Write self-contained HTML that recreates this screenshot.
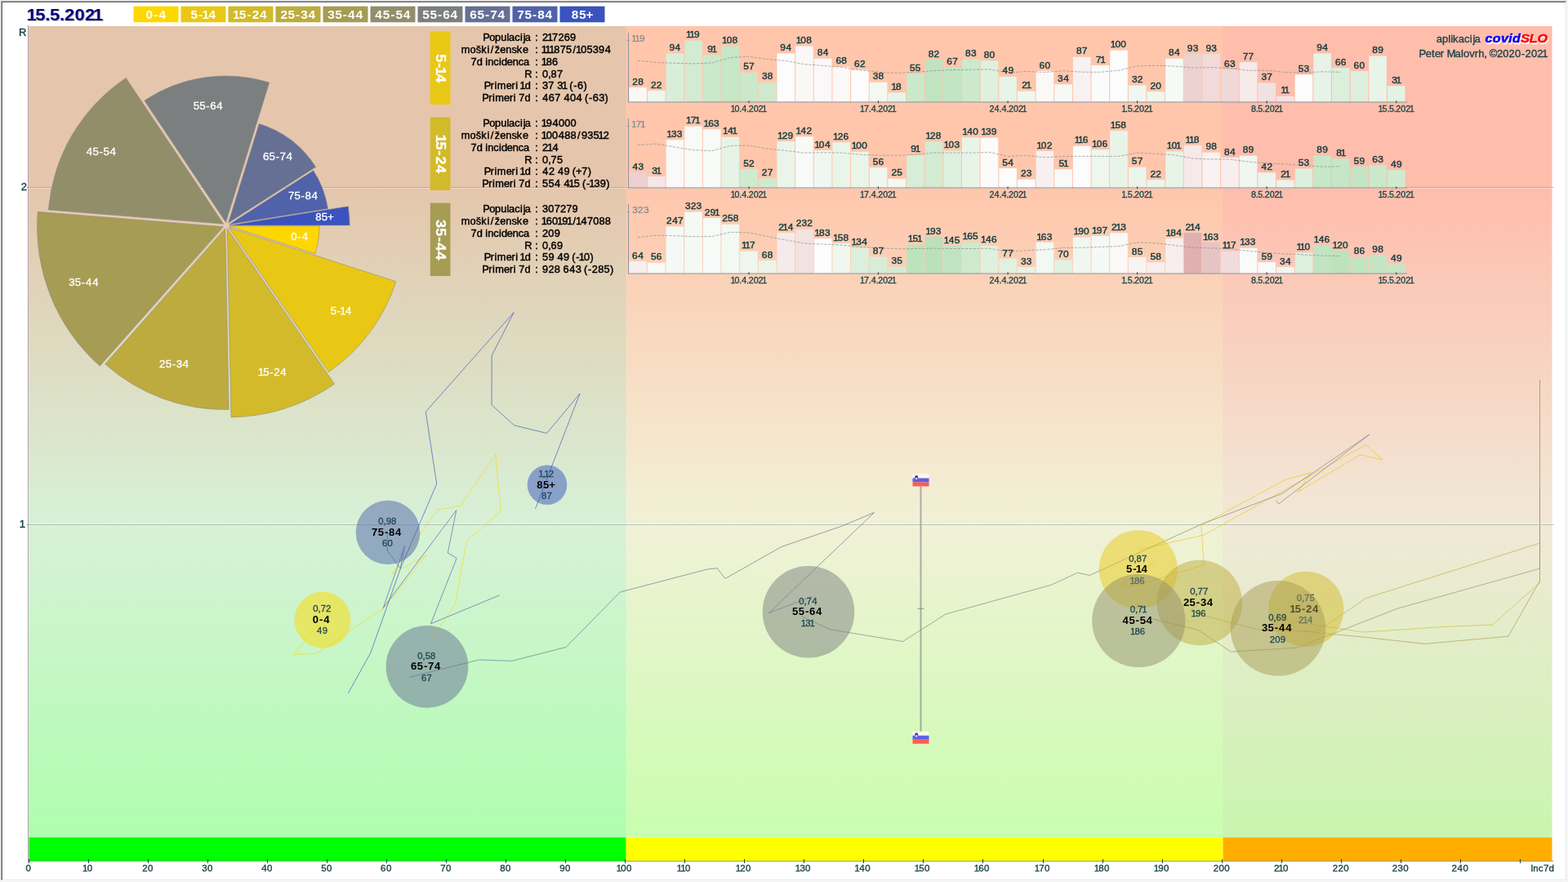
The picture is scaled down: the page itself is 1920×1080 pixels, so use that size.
<!DOCTYPE html>
<html lang="sl"><head><meta charset="utf-8"><title>covidSLO 15.5.2021</title>
<style>
html,body{margin:0;padding:0;width:1920px;height:1080px;overflow:hidden;background:#fff}
#frame{position:absolute;left:0;top:0;width:1920px;height:1080px;box-sizing:border-box;border:1px solid #f0f0f0}
#frame i{position:absolute;display:block}
svg{position:absolute;left:0;top:0;font-family:'Liberation Sans', sans-serif}
svg text{white-space:pre;font-kerning:none;font-variant-ligatures:none}
</style></head><body>
<div id="frame">
<i style="left:0;top:0;width:1917px;height:1px;background:#a0a0a0"></i>
<i style="left:0;top:0;width:1px;height:1077px;background:#a0a0a0"></i>
<i style="left:1px;top:1px;width:1915px;height:1px;background:#696969"></i>
<i style="left:1px;top:1px;width:1px;height:1075px;background:#696969"></i>
<i style="left:1px;top:1076px;width:1916px;height:1px;background:#e3e3e3"></i>
<i style="left:1916px;top:1px;width:1px;height:1076px;background:#e3e3e3"></i>
</div>
<svg width="1920" height="1080" viewBox="0 0 1920 1080">
<defs>
<linearGradient id="bg" gradientUnits="userSpaceOnUse" x1="0" y1="229" x2="0" y2="1055">
<stop offset="0" stop-color="#ffc0c0"/><stop offset="0.5" stop-color="#f0f0f0"/><stop offset="1" stop-color="#c0ffc0"/>
</linearGradient>
<clipPath id="plot"><rect x="35" y="32" width="1865.5" height="1022"/></clipPath>
</defs>
<g id="background">
<rect x="35" y="32" width="1865.5" height="993.5" fill="url(#bg)"/>
<rect x="36" y="32" width="730.6" height="993.5" fill="#00ff00" fill-opacity="0.1"/>
<rect x="766.6" y="32" width="730.9" height="993.5" fill="#ffff00" fill-opacity="0.1"/>
<rect x="1497.5" y="32" width="403" height="993.5" fill="#ffa500" fill-opacity="0.1"/>
<rect x="35.5" y="1025.4" width="731.1" height="28.6" fill="#00ff00"/>
<rect x="766.6" y="1025.4" width="730.9" height="28.6" fill="#ffff00"/>
<rect x="1497.5" y="1025.4" width="403" height="28.6" fill="#ffae00"/>
</g>
<g id="rlines">
<line x1="35" y1="230.5" x2="1900.5" y2="230.5" stroke="#ffffff" stroke-opacity="0.35" stroke-width="1"/>
<line x1="35" y1="641.5" x2="1900.5" y2="641.5" stroke="#ffffff" stroke-opacity="0.35" stroke-width="1"/>
<line x1="33" y1="229.5" x2="1902" y2="229.5" stroke="#87958f" stroke-width="1" stroke-dasharray="1 1"/>
<line x1="33" y1="642.5" x2="1902" y2="642.5" stroke="#87958f" stroke-width="1" stroke-dasharray="1 1"/>
</g>
<g id="axes">
<line x1="34.5" y1="31" x2="34.5" y2="1054.5" stroke="#a2a2a2" stroke-width="1"/>
<line x1="34" y1="1054.5" x2="1902" y2="1054.5" stroke="#9a9aa6" stroke-width="1"/>
<line x1="35.5" y1="1052" x2="35.5" y2="1057" stroke="#1c4346" stroke-width="1"/>
<text transform="translate(31.3,1066.9) scale(1.06,1)" font-size="10.86" fill="#1c4346" stroke="#1c4346" stroke-width="0.35" dx="0.15">0</text>
<line x1="108.5" y1="1052" x2="108.5" y2="1057" stroke="#1c4346" stroke-width="1"/>
<text transform="translate(102.1,1066.9) scale(1.06,1)" font-size="10.86" fill="#1c4346" stroke="#1c4346" stroke-width="0.35" dx="-1.1 -0.65">10</text>
<line x1="181.5" y1="1052" x2="181.5" y2="1057" stroke="#1c4346" stroke-width="1"/>
<text transform="translate(174.0,1066.9) scale(1.06,1)" font-size="10.86" fill="#1c4346" stroke="#1c4346" stroke-width="0.35" dx="0.16 0.31">20</text>
<line x1="254.5" y1="1052" x2="254.5" y2="1057" stroke="#1c4346" stroke-width="1"/>
<text transform="translate(247.0,1066.9) scale(1.06,1)" font-size="10.86" fill="#1c4346" stroke="#1c4346" stroke-width="0.35" dx="0.18 0.28">30</text>
<line x1="327.5" y1="1052" x2="327.5" y2="1057" stroke="#1c4346" stroke-width="1"/>
<text transform="translate(319.7,1066.9) scale(1.06,1)" font-size="10.86" fill="#1c4346" stroke="#1c4346" stroke-width="0.35" dx="0.42 0.49">40</text>
<line x1="400.5" y1="1052" x2="400.5" y2="1057" stroke="#1c4346" stroke-width="1"/>
<text transform="translate(393.0,1066.9) scale(1.06,1)" font-size="10.86" fill="#1c4346" stroke="#1c4346" stroke-width="0.35" dx="0.16 0.3">50</text>
<line x1="473.5" y1="1052" x2="473.5" y2="1057" stroke="#1c4346" stroke-width="1"/>
<text transform="translate(466.0,1066.9) scale(1.06,1)" font-size="10.86" fill="#1c4346" stroke="#1c4346" stroke-width="0.35" dx="0.12 0.34">60</text>
<line x1="546.5" y1="1052" x2="546.5" y2="1057" stroke="#1c4346" stroke-width="1"/>
<text transform="translate(539.0,1066.9) scale(1.06,1)" font-size="10.86" fill="#1c4346" stroke="#1c4346" stroke-width="0.35" dx="0.15 0.31">70</text>
<line x1="619.5" y1="1052" x2="619.5" y2="1057" stroke="#1c4346" stroke-width="1"/>
<text transform="translate(612.0,1066.9) scale(1.06,1)" font-size="10.86" fill="#1c4346" stroke="#1c4346" stroke-width="0.35" dx="0.16 0.31">80</text>
<line x1="692.5" y1="1052" x2="692.5" y2="1057" stroke="#1c4346" stroke-width="1"/>
<text transform="translate(685.0,1066.9) scale(1.06,1)" font-size="10.86" fill="#1c4346" stroke="#1c4346" stroke-width="0.35" dx="0.16 0.3">90</text>
<line x1="765.5" y1="1052" x2="765.5" y2="1057" stroke="#1c4346" stroke-width="1"/>
<text transform="translate(755.8,1066.9) scale(1.06,1)" font-size="10.86" fill="#1c4346" stroke="#1c4346" stroke-width="0.35" dx="-1.1 -0.65 0.31">100</text>
<line x1="838.5" y1="1052" x2="838.5" y2="1057" stroke="#1c4346" stroke-width="1"/>
<text transform="translate(830.0,1066.9) scale(1.06,1)" font-size="10.86" fill="#1c4346" stroke="#1c4346" stroke-width="0.35" dx="-1.1 -1.9 -0.65">110</text>
<line x1="911.5" y1="1052" x2="911.5" y2="1057" stroke="#1c4346" stroke-width="1"/>
<text transform="translate(901.8,1066.9) scale(1.06,1)" font-size="10.86" fill="#1c4346" stroke="#1c4346" stroke-width="0.35" dx="-1.1 -0.64 0.31">120</text>
<line x1="984.5" y1="1052" x2="984.5" y2="1057" stroke="#1c4346" stroke-width="1"/>
<text transform="translate(974.8,1066.9) scale(1.06,1)" font-size="10.86" fill="#1c4346" stroke="#1c4346" stroke-width="0.35" dx="-1.1 -0.62 0.28">130</text>
<line x1="1057.5" y1="1052" x2="1057.5" y2="1057" stroke="#1c4346" stroke-width="1"/>
<text transform="translate(1047.5,1066.9) scale(1.06,1)" font-size="10.86" fill="#1c4346" stroke="#1c4346" stroke-width="0.35" dx="-1.1 -0.38 0.49">140</text>
<line x1="1130.5" y1="1052" x2="1130.5" y2="1057" stroke="#1c4346" stroke-width="1"/>
<text transform="translate(1120.8,1066.9) scale(1.06,1)" font-size="10.86" fill="#1c4346" stroke="#1c4346" stroke-width="0.35" dx="-1.1 -0.64 0.3">150</text>
<line x1="1203.5" y1="1052" x2="1203.5" y2="1057" stroke="#1c4346" stroke-width="1"/>
<text transform="translate(1193.8,1066.9) scale(1.06,1)" font-size="10.86" fill="#1c4346" stroke="#1c4346" stroke-width="0.35" dx="-1.1 -0.68 0.34">160</text>
<line x1="1277.5" y1="1052" x2="1277.5" y2="1057" stroke="#1c4346" stroke-width="1"/>
<text transform="translate(1267.8,1066.9) scale(1.06,1)" font-size="10.86" fill="#1c4346" stroke="#1c4346" stroke-width="0.35" dx="-1.1 -0.65 0.31">170</text>
<line x1="1350.5" y1="1052" x2="1350.5" y2="1057" stroke="#1c4346" stroke-width="1"/>
<text transform="translate(1340.8,1066.9) scale(1.06,1)" font-size="10.86" fill="#1c4346" stroke="#1c4346" stroke-width="0.35" dx="-1.1 -0.64 0.31">180</text>
<line x1="1423.5" y1="1052" x2="1423.5" y2="1057" stroke="#1c4346" stroke-width="1"/>
<text transform="translate(1413.8,1066.9) scale(1.06,1)" font-size="10.86" fill="#1c4346" stroke="#1c4346" stroke-width="0.35" dx="-1.1 -0.64 0.3">190</text>
<line x1="1496.5" y1="1052" x2="1496.5" y2="1057" stroke="#1c4346" stroke-width="1"/>
<text transform="translate(1485.6,1066.9) scale(1.06,1)" font-size="10.86" fill="#1c4346" stroke="#1c4346" stroke-width="0.35" dx="0.16 0.31 0.31">200</text>
<line x1="1569.5" y1="1052" x2="1569.5" y2="1057" stroke="#1c4346" stroke-width="1"/>
<text transform="translate(1559.8,1066.9) scale(1.06,1)" font-size="10.86" fill="#1c4346" stroke="#1c4346" stroke-width="0.35" dx="0.16 -0.95 -0.65">210</text>
<line x1="1642.5" y1="1052" x2="1642.5" y2="1057" stroke="#1c4346" stroke-width="1"/>
<text transform="translate(1631.6,1066.9) scale(1.06,1)" font-size="10.86" fill="#1c4346" stroke="#1c4346" stroke-width="0.35" dx="0.16 0.31 0.31">220</text>
<line x1="1715.5" y1="1052" x2="1715.5" y2="1057" stroke="#1c4346" stroke-width="1"/>
<text transform="translate(1704.6,1066.9) scale(1.06,1)" font-size="10.86" fill="#1c4346" stroke="#1c4346" stroke-width="0.35" dx="0.16 0.34 0.28">230</text>
<line x1="1788.5" y1="1052" x2="1788.5" y2="1057" stroke="#1c4346" stroke-width="1"/>
<text transform="translate(1777.4,1066.9) scale(1.06,1)" font-size="10.86" fill="#1c4346" stroke="#1c4346" stroke-width="0.35" dx="0.16 0.57 0.49">240</text>
<line x1="1861.5" y1="1052" x2="1861.5" y2="1057" stroke="#1c4346" stroke-width="1"/>
<text transform="translate(1874.3,1066.9) scale(1.06,1)" font-size="10.86" fill="#1c4346" stroke="#1c4346" stroke-width="0.35" dx="-0.05 -0.08 0.04 0.34 0.23">Inc7d</text>
<text transform="translate(24.3,44.0) scale(1.06,1)" font-size="12.29" fill="#1c4346" stroke="#1c4346" stroke-width="0.4" dx="-1.17">R</text>
<text transform="translate(25.6,233.0) scale(1.06,1)" font-size="12.29" fill="#1c4346" stroke="#1c4346" stroke-width="0.4" dx="0.07">2</text>
<text transform="translate(25.2,645.8) scale(1.06,1)" font-size="12.29" fill="#1c4346" stroke="#1c4346" stroke-width="0.4" dx="-1.32">1</text>
</g>
<g id="header">
<text transform="translate(36.0,26.0) scale(1.06,1)" font-size="20.86" fill="#b4b4b4" font-weight="bold" dx="-2.31 -1.5 -0.26 -0.36 -0.26 -0.28 0.18 0.27 -2.26">15.5.2021</text>
<text transform="translate(35.0,25.0) scale(1.06,1)" font-size="20.86" fill="#000080" font-weight="bold" dx="-2.31 -1.5 -0.26 -0.36 -0.26 -0.28 0.18 0.27 -2.26">15.5.2021</text>
<rect x="163.5" y="7.7" width="55" height="19.6" fill="#ffd700"/>
<text transform="translate(178.3,23) scale(1.06,1)" font-size="14.57" fill="#fff" font-weight="bold" dx="0.26 0.93 1.15">0-4</text>
<rect x="221.5" y="7.7" width="55" height="19.6" fill="#e9c815"/>
<text transform="translate(233.3,23) scale(1.06,1)" font-size="14.57" fill="#fff" font-weight="bold" dx="0.23 0.96 -0.83 -0.52">5-14</text>
<rect x="279.5" y="7.7" width="55" height="19.6" fill="#d3ba2a"/>
<text transform="translate(286.7,23) scale(1.06,1)" font-size="14.57" fill="#fff" font-weight="bold" dx="-1.5 -0.76 0.96 0.96 0.69">15-24</text>
<rect x="337.5" y="7.7" width="55" height="19.6" fill="#bdab3f"/>
<text transform="translate(343.1,23) scale(1.06,1)" font-size="14.57" fill="#fff" font-weight="bold" dx="0.29 0.45 0.96 1.02 0.64">25-34</text>
<rect x="395.5" y="7.7" width="55" height="19.6" fill="#a79c54"/>
<text transform="translate(400.8,23) scale(1.06,1)" font-size="14.57" fill="#fff" font-weight="bold" dx="0.35 0.39 0.96 1.15 1.1">35-44</text>
<rect x="453.5" y="7.7" width="55" height="19.6" fill="#928e6a"/>
<text transform="translate(458.8,23) scale(1.06,1)" font-size="14.57" fill="#fff" font-weight="bold" dx="0.48 0.85 0.96 0.9 0.75">45-54</text>
<rect x="511.5" y="7.7" width="55" height="19.6" fill="#7c7f7f"/>
<text transform="translate(517.1,23) scale(1.06,1)" font-size="14.57" fill="#fff" font-weight="bold" dx="0.23 0.5 0.96 0.91 0.74">55-64</text>
<rect x="569.5" y="7.7" width="55" height="19.6" fill="#667094"/>
<text transform="translate(575.1,23) scale(1.06,1)" font-size="14.57" fill="#fff" font-weight="bold" dx="0.25 0.49 0.96 0.93 0.72">65-74</text>
<rect x="627.5" y="7.7" width="55" height="19.6" fill="#5062a9"/>
<text transform="translate(633.1,23) scale(1.06,1)" font-size="14.57" fill="#fff" font-weight="bold" dx="0.26 0.47 0.96 0.91 0.74">75-84</text>
<rect x="685.5" y="7.7" width="55" height="19.6" fill="#3a53be"/>
<text transform="translate(699.6,23) scale(1.06,1)" font-size="14.57" fill="#fff" font-weight="bold" dx="0.25 0.49 0.01">85+</text>
<text transform="translate(1759.3,52) scale(1.06,1)" font-size="12.29" fill="#1c4346" stroke="#1c4346" stroke-width="0.35" dx="-0.41 -0.16 0.06 0.16 -0.16 0.22 0.06 0.22 0.7 -0.9">aplikacija</text>
<text transform="translate(1819.2,53.7) scale(1.06,1)" font-size="15.14" fill="#fff" font-weight="bold" stroke="#fff" stroke-width="0.5" dx="0.19 0.41 0.46 0.33 0.22" font-style="italic">covid</text>
<text transform="translate(1862.9,53.7) scale(1.06,1)" font-size="15.14" fill="#fff" font-weight="bold" stroke="#fff" stroke-width="0.5" dx="0.22 -0.13 -0.09" font-style="italic">SLO</text>
<text transform="translate(1818.2,52.2) scale(1.06,1)" font-size="15.14" fill="#0000ff" font-weight="bold" stroke="#0000ff" stroke-width="0.5" dx="0.19 0.41 0.46 0.33 0.22" font-style="italic">covid</text>
<text transform="translate(1861.9,52.2) scale(1.06,1)" font-size="15.14" fill="#ff0000" font-weight="bold" stroke="#ff0000" stroke-width="0.5" dx="0.22 -0.13 -0.09" font-style="italic">SLO</text>
<text transform="translate(1738.3,69.6) scale(1.06,1)" font-size="12.29" fill="#1c4346" stroke="#1c4346" stroke-width="0.35" dx="-0.73 -0.46 0.13 0.26 -0.38 0.34 -0.5 -0.86 0.23 -0.03 0.05 -0.1 0.22 -0.25 -0.19 -0.51 -0.44 0.09 0.11 0.09 0.51 0.5 0.09 0.11 -1.28">Peter Malovrh, ©2020-2021</text>
</g>
<g id="trails" clip-path="url(#plot)" fill="none" stroke-width="1" stroke-linecap="butt" stroke-opacity="0.66">
<g stroke="#ffd700"><line x1="529.4" y1="781.9" x2="557.5" y2="739.4"/><line x1="557.5" y1="739.4" x2="571.3" y2="662.5"/><line x1="571.3" y1="662.5" x2="613.3" y2="626.3"/><line x1="613.3" y1="626.3" x2="606.7" y2="556.3"/><line x1="606.7" y1="556.3" x2="564.2" y2="619.2"/><line x1="564.2" y1="619.2" x2="535.8" y2="624.2"/><line x1="535.8" y1="624.2" x2="479.6" y2="703.2"/><line x1="479.6" y1="703.2" x2="521.7" y2="680.2"/><line x1="521.7" y1="680.2" x2="469.4" y2="745.0"/><line x1="469.4" y1="745.0" x2="387.5" y2="800.3"/><line x1="387.5" y1="800.3" x2="360.0" y2="801.3"/><line x1="360.0" y1="801.3" x2="392.5" y2="761.3"/></g>
<g stroke="#e9c815"><line x1="1393.5" y1="673.2" x2="1474.2" y2="655.1"/><line x1="1474.2" y1="655.1" x2="1672.6" y2="544.5"/><line x1="1672.6" y1="544.5" x2="1692.8" y2="563.2"/><line x1="1692.8" y1="563.2" x2="1665.9" y2="556.7"/><line x1="1665.9" y1="556.7" x2="1588.5" y2="602.9"/><line x1="1588.5" y1="602.9" x2="1605.4" y2="578.8"/><line x1="1605.4" y1="578.8" x2="1575.1" y2="586.8"/><line x1="1575.1" y1="586.8" x2="1470.9" y2="643.0"/><line x1="1470.9" y1="643.0" x2="1474.2" y2="692.0"/><line x1="1474.2" y1="692.0" x2="1383.4" y2="719.1"/><line x1="1383.4" y1="719.1" x2="1373.3" y2="716.1"/><line x1="1373.3" y1="716.1" x2="1413.7" y2="688.5"/></g>
<g stroke="#d3ba2a"><line x1="1885.5" y1="682.2" x2="1885.5" y2="688.8"/><line x1="1885.5" y1="688.8" x2="1885.5" y2="597.5"/><line x1="1885.5" y1="597.5" x2="1885.5" y2="618.9"/><line x1="1885.5" y1="618.9" x2="1885.5" y2="609.2"/><line x1="1885.5" y1="609.2" x2="1885.5" y2="669.8"/><line x1="1885.5" y1="669.8" x2="1885.5" y2="681.8"/><line x1="1885.5" y1="681.8" x2="1885.5" y2="681.8"/><line x1="1885.5" y1="681.8" x2="1885.5" y2="713.6"/><line x1="1885.5" y1="713.6" x2="1827.6" y2="765.0"/><line x1="1827.6" y1="765.0" x2="1763.6" y2="767.8"/><line x1="1763.6" y1="767.8" x2="1669.4" y2="774.1"/><line x1="1669.4" y1="774.1" x2="1571.5" y2="758.9"/></g>
<g stroke="#bdab3f"><line x1="1885.5" y1="600" x2="1885.5" y2="665.0"/><line x1="1885.5" y1="665.0" x2="1672.5" y2="732.5"/><line x1="1672.5" y1="732.5" x2="1613.2" y2="773.0"/><line x1="1613.2" y1="773.0" x2="1546" y2="772"/><line x1="1546" y1="772" x2="1476.3" y2="754.4"/><line x1="1476.3" y1="754.4" x2="1457.5" y2="747.3"/><line x1="1457.5" y1="747.3" x2="1466.9" y2="740.6"/></g>
<g stroke="#a79c54"><line x1="1885.5" y1="612.0" x2="1885.5" y2="608.4"/><line x1="1885.5" y1="608.4" x2="1885.5" y2="465.2"/><line x1="1885.5" y1="465.2" x2="1885.5" y2="509.9"/><line x1="1885.5" y1="509.9" x2="1885.5" y2="567.5"/><line x1="1885.5" y1="567.5" x2="1885.5" y2="637.2"/><line x1="1885.5" y1="637.2" x2="1885.5" y2="652.0"/><line x1="1885.5" y1="652.0" x2="1885.5" y2="672.5"/><line x1="1885.5" y1="672.5" x2="1885.5" y2="711.2"/><line x1="1885.5" y1="711.2" x2="1846.8" y2="779.2"/><line x1="1846.8" y1="779.2" x2="1744.5" y2="788.4"/><line x1="1744.5" y1="788.4" x2="1670.8" y2="780.2"/><line x1="1670.8" y1="780.2" x2="1587.6" y2="772.3"/></g>
<g stroke="#928e6a"><line x1="1885.5" y1="600" x2="1885.5" y2="696.2"/><line x1="1885.5" y1="696.2" x2="1710.8" y2="745.3"/><line x1="1710.8" y1="745.3" x2="1588.0" y2="793.1"/><line x1="1588.0" y1="793.1" x2="1507.5" y2="798.1"/><line x1="1507.5" y1="798.1" x2="1466.9" y2="771.3"/><line x1="1466.9" y1="771.3" x2="1410.0" y2="757.5"/></g>
<g stroke="#7c7f7f"><line x1="1562.7" y1="612.7" x2="1565.6" y2="617.1"/><line x1="1565.6" y1="617.1" x2="1676.7" y2="532.2"/><line x1="1676.7" y1="532.2" x2="1570.0" y2="604.4"/><line x1="1570.0" y1="604.4" x2="1472.5" y2="641.3"/><line x1="1472.5" y1="641.3" x2="1334.3" y2="704.5"/><line x1="1334.3" y1="704.5" x2="1319.5" y2="701.3"/><line x1="1319.5" y1="701.3" x2="1287.0" y2="716.3"/><line x1="1287.0" y1="716.3" x2="1158.0" y2="752.0"/><line x1="1158.0" y1="752.0" x2="1105.5" y2="785.5"/><line x1="1105.5" y1="785.5" x2="1016.1" y2="770.7"/><line x1="1016.1" y1="770.7" x2="981.3" y2="754.4"/></g>
<g stroke="#667094"><line x1="994.8" y1="730.1" x2="941.5" y2="750.6"/><line x1="941.5" y1="750.6" x2="1070.5" y2="627.5"/><line x1="1070.5" y1="627.5" x2="1030.0" y2="644.5"/><line x1="1030.0" y1="644.5" x2="956.8" y2="669.5"/><line x1="956.8" y1="669.5" x2="888.0" y2="708.5"/><line x1="888.0" y1="708.5" x2="878.3" y2="695.8"/><line x1="878.3" y1="695.8" x2="866.3" y2="697.0"/><line x1="866.3" y1="697.0" x2="759.3" y2="725.0"/><line x1="759.3" y1="725.0" x2="693.0" y2="792.5"/><line x1="693.0" y1="792.5" x2="626.8" y2="809.3"/><line x1="626.8" y1="809.3" x2="586.3" y2="808.0"/><line x1="586.3" y1="808.0" x2="501.3" y2="829.3"/></g>
<g stroke="#5062a9"><line x1="611.7" y1="728.8" x2="527.5" y2="763.8"/><line x1="527.5" y1="763.8" x2="559.2" y2="683.5"/><line x1="559.2" y1="683.5" x2="548.3" y2="677.0"/><line x1="548.3" y1="677.0" x2="558.8" y2="624.8"/><line x1="558.8" y1="624.8" x2="469.2" y2="744.6"/><line x1="469.2" y1="744.6" x2="495.5" y2="668.6"/><line x1="495.5" y1="668.6" x2="490.3" y2="696.1"/><line x1="490.3" y1="696.1" x2="474.2" y2="673.9"/><line x1="474.2" y1="673.9" x2="474.2" y2="652.2"/></g>
<g stroke="#3a53be"><line x1="426.3" y1="848.8" x2="453.8" y2="799.5"/><line x1="453.8" y1="799.5" x2="490.6" y2="695.5"/><line x1="490.6" y1="695.5" x2="534.7" y2="592.5"/><line x1="534.7" y1="592.5" x2="521.3" y2="504.2"/><line x1="521.3" y1="504.2" x2="629.2" y2="382.5"/><line x1="629.2" y1="382.5" x2="602.2" y2="435.3"/><line x1="602.2" y1="435.3" x2="602.0" y2="495.8"/><line x1="602.0" y1="495.8" x2="629.7" y2="520.8"/><line x1="629.7" y1="520.8" x2="669.5" y2="530.5"/><line x1="669.5" y1="530.5" x2="710.0" y2="482.0"/><line x1="710.0" y1="482.0" x2="655.5" y2="623.0"/></g>
</g>
<g id="country">
<line x1="1127.5" y1="595.5" x2="1127.5" y2="896" stroke="#808080" stroke-opacity="0.6" stroke-width="2"/>
<line x1="1123.5" y1="745.3" x2="1131.5" y2="745.3" stroke="#808080" stroke-opacity="0.6" stroke-width="1.5"/>
<g opacity="0.92"><rect x="1117.5" y="580.5" width="20" height="5" fill="#fffdf8" fill-opacity="0.85"/><rect x="1117.5" y="585.5" width="20" height="5" fill="#5354ee"/><rect x="1117.5" y="590.5" width="20" height="5" fill="#ff5046"/><path d="M1120.5,583.1 L1122.2,582.0 L1123.9,583.1 V585.7 Q1123.9,587.5 1122.2,588.4 Q1120.5,587.5 1120.5,585.7 Z" fill="#0000e6" stroke="#e03030" stroke-width="0.25"/><path d="M1120.9,586.1 L1122.2,584.4 L1123.5,586.1 Q1123.3,587.3 1122.2,587.8 Q1121.1,587.3 1120.9,586.1 Z" fill="#fff"/><circle cx="1122.2" cy="583.4" r="0.4" fill="#ffe000"/><circle cx="1122.2" cy="587.9" r="0.45" fill="#e02020"/></g>
<g opacity="0.92"><rect x="1117.5" y="895.7" width="20" height="5" fill="#fffdf8" fill-opacity="0.85"/><rect x="1117.5" y="900.7" width="20" height="5" fill="#5354ee"/><rect x="1117.5" y="905.7" width="20" height="5" fill="#ff5046"/><path d="M1120.5,898.3000000000001 L1122.2,897.2 L1123.9,898.3000000000001 V900.9000000000001 Q1123.9,902.7 1122.2,903.6 Q1120.5,902.7 1120.5,900.9000000000001 Z" fill="#0000e6" stroke="#e03030" stroke-width="0.25"/><path d="M1120.9,901.3000000000001 L1122.2,899.6 L1123.5,901.3000000000001 Q1123.3,902.5 1122.2,903.0 Q1121.1,902.5 1120.9,901.3000000000001 Z" fill="#fff"/><circle cx="1122.2" cy="898.6" r="0.4" fill="#ffe000"/><circle cx="1122.2" cy="903.1" r="0.45" fill="#e02020"/></g>
</g>
<g id="bubbles">
<circle cx="395.0" cy="759.0" r="34.4" fill="#ffd700" fill-opacity="0.5"/>
<text transform="translate(383.3,749.4) scale(1.06,1)" font-size="10.71" fill="#1e4850" stroke="#1e4850" stroke-width="0.3" dx="0.06 -0.07 -0.09 0.13">0,72</text>
<text transform="translate(382.6,763.0) scale(1.06,1)" font-size="12.43" fill="#000" font-weight="bold" dx="0.19 0.73 0.92">0-4</text>
<text transform="translate(387.7,776.4) scale(1.06,1)" font-size="10.71" fill="#1e4850" stroke="#1e4850" stroke-width="0.3" dx="0.31 0.31">49</text>
<circle cx="1393.8" cy="697.3" r="48.1" fill="#e9c815" fill-opacity="0.5"/>
<text transform="translate(1382.1,687.7) scale(1.06,1)" font-size="10.71" fill="#1e4850" stroke="#1e4850" stroke-width="0.3" dx="0.06 -0.07 -0.08 0.12">0,87</text>
<text transform="translate(1378.9,701.3) scale(1.06,1)" font-size="12.43" fill="#000" font-weight="bold" dx="0.16 0.75 -0.76 -0.5">5-14</text>
<text transform="translate(1384.7,714.7) scale(1.06,1)" font-size="10.71" fill="#1e4850" stroke="#1e4850" stroke-width="0.3" dx="-1.15 -0.78 0.09">186</text>
<circle cx="1599.3" cy="745.8" r="46.1" fill="#d3ba2a" fill-opacity="0.5"/>
<text transform="translate(1587.6,736.2) scale(1.06,1)" font-size="10.71" fill="#1e4850" stroke="#1e4850" stroke-width="0.3" dx="0.06 -0.07 -0.09 0.14">0,75</text>
<text transform="translate(1580.6,749.8) scale(1.06,1)" font-size="12.43" fill="#000" font-weight="bold" dx="-1.31 -0.71 0.75 0.76 0.52">15-24</text>
<text transform="translate(1589.9,763.2) scale(1.06,1)" font-size="10.71" fill="#1e4850" stroke="#1e4850" stroke-width="0.3" dx="0.07 -1.08 -0.53">214</text>
<circle cx="1468.8" cy="738.0" r="52.3" fill="#bdab3f" fill-opacity="0.5"/>
<text transform="translate(1457.1,728.4) scale(1.06,1)" font-size="10.71" fill="#1e4850" stroke="#1e4850" stroke-width="0.3" dx="0.06 -0.07 -0.09 0.13">0,77</text>
<text transform="translate(1448.7,742.0) scale(1.06,1)" font-size="12.43" fill="#000" font-weight="bold" dx="0.21 0.31 0.75 0.81 0.47">25-34</text>
<text transform="translate(1459.7,755.4) scale(1.06,1)" font-size="10.71" fill="#1e4850" stroke="#1e4850" stroke-width="0.3" dx="-1.15 -0.78 0.09">196</text>
<circle cx="1565.0" cy="769.3" r="58.3" fill="#a79c54" fill-opacity="0.5"/>
<text transform="translate(1553.3,759.7) scale(1.06,1)" font-size="10.71" fill="#1e4850" stroke="#1e4850" stroke-width="0.3" dx="0.06 -0.07 -0.12 0.17">0,69</text>
<text transform="translate(1544.7,773.3) scale(1.06,1)" font-size="12.43" fill="#000" font-weight="bold" dx="0.26 0.26 0.75 0.92 0.86">35-44</text>
<text transform="translate(1554.7,786.7) scale(1.06,1)" font-size="10.71" fill="#1e4850" stroke="#1e4850" stroke-width="0.3" dx="0.07 0.12 0.14">209</text>
<circle cx="1394.3" cy="760.0" r="57.1" fill="#928e6a" fill-opacity="0.5"/>
<text transform="translate(1383.7,750.4) scale(1.06,1)" font-size="10.71" fill="#1e4850" stroke="#1e4850" stroke-width="0.3" dx="0.06 -0.07 -0.09 -1.08">0,71</text>
<text transform="translate(1374.0,764.0) scale(1.06,1)" font-size="12.43" fill="#000" font-weight="bold" dx="0.37 0.65 0.75 0.71 0.57">45-54</text>
<text transform="translate(1385.2,777.4) scale(1.06,1)" font-size="10.71" fill="#1e4850" stroke="#1e4850" stroke-width="0.3" dx="-1.15 -0.78 0.09">186</text>
<circle cx="990.0" cy="749.3" r="56.3" fill="#7c7f7f" fill-opacity="0.5"/>
<text transform="translate(978.1,739.7) scale(1.06,1)" font-size="10.71" fill="#1e4850" stroke="#1e4850" stroke-width="0.3" dx="0.06 -0.07 -0.09 0.38">0,74</text>
<text transform="translate(969.9,753.3) scale(1.06,1)" font-size="12.43" fill="#000" font-weight="bold" dx="0.16 0.36 0.75 0.72 0.55">55-64</text>
<text transform="translate(982.0,766.7) scale(1.06,1)" font-size="10.71" fill="#1e4850" stroke="#1e4850" stroke-width="0.3" dx="-1.15 -0.76 -1.11">131</text>
<circle cx="523.0" cy="816.3" r="50.4" fill="#667094" fill-opacity="0.5"/>
<text transform="translate(511.3,806.7) scale(1.06,1)" font-size="10.71" fill="#1e4850" stroke="#1e4850" stroke-width="0.3" dx="0.06 -0.07 -0.08 0.12">0,58</text>
<text transform="translate(502.9,820.3) scale(1.06,1)" font-size="12.43" fill="#000" font-weight="bold" dx="0.17 0.34 0.75 0.73 0.54">65-74</text>
<text transform="translate(515.9,833.7) scale(1.06,1)" font-size="10.71" fill="#1e4850" stroke="#1e4850" stroke-width="0.3" dx="0.03 0.16">67</text>
<circle cx="475.0" cy="652.0" r="39.3" fill="#5062a9" fill-opacity="0.5"/>
<text transform="translate(463.3,642.4) scale(1.06,1)" font-size="10.71" fill="#1e4850" stroke="#1e4850" stroke-width="0.3" dx="0.06 -0.07 -0.08 0.12">0,98</text>
<text transform="translate(454.9,656.0) scale(1.06,1)" font-size="12.43" fill="#000" font-weight="bold" dx="0.19 0.33 0.75 0.72 0.55">75-84</text>
<text transform="translate(467.9,669.4) scale(1.06,1)" font-size="10.71" fill="#1e4850" stroke="#1e4850" stroke-width="0.3" dx="0.03 0.16">60</text>
<circle cx="670.0" cy="593.8" r="24.3" fill="#3a53be" fill-opacity="0.5"/>
<text transform="translate(660.5,584.2) scale(1.06,1)" font-size="10.71" fill="#1e4850" stroke="#1e4850" stroke-width="0.3" dx="-1.15 -0.99 -1.29 -0.78">1,12</text>
<text transform="translate(657.1,597.8) scale(1.06,1)" font-size="12.43" fill="#000" font-weight="bold" dx="0.17 0.34 -0.06">85+</text>
<text transform="translate(662.9,611.2) scale(1.06,1)" font-size="10.71" fill="#1e4850" stroke="#1e4850" stroke-width="0.3" dx="0.07 0.12">87</text>
</g>
<g id="pie" stroke="#8c8c8c" stroke-opacity="0.75" stroke-width="0.8" stroke-linejoin="miter">
<path d="M280.98,276.81 L391.30,276.81 A110.32,110.32 0 0 1 385.95,310.76 Z" fill="#ffd700"/>
<path d="M280.25,278.55 L484.96,344.74 A215.14,215.14 0 0 1 402.45,455.61 Z" fill="#e9c815"/>
<path d="M278.31,279.94 L409.56,470.13 A231.08,231.08 0 0 1 282.99,510.97 Z" fill="#d3ba2a"/>
<path d="M275.74,279.89 L280.23,501.56 A221.72,221.72 0 0 1 128.68,445.82 Z" fill="#bdab3f"/>
<path d="M273.45,277.67 L122.27,448.25 A227.94,227.94 0 0 1 46.25,259.35 Z" fill="#a79c54"/>
<path d="M273.71,274.21 L59.37,256.93 A215.04,215.04 0 0 1 154.21,95.43 Z" fill="#928e6a"/>
<path d="M276.54,272.31 L176.85,123.18 A179.38,179.38 0 0 1 329.82,101.03 Z" fill="#7c7f7f"/>
<path d="M279.48,273.07 L317.29,151.53 A127.29,127.29 0 0 1 386.66,204.40 Z" fill="#667094"/>
<path d="M280.77,274.80 L383.76,208.81 A122.32,122.32 0 0 1 401.56,255.50 Z" fill="#5062a9"/>
<path d="M281.02,275.89 L426.30,252.67 A147.13,147.13 0 0 1 428.15,275.89 Z" fill="#3a53be"/>
</g>
<g id="pielabels">
<text transform="translate(356.3,294.0) scale(1.06,1)" font-size="12.57" fill="#fff" stroke="#fff" stroke-width="0.3" dx="0.07 0.56 0.85">0-4</text>
<text transform="translate(404.6,385.1) scale(1.06,1)" font-size="12.57" fill="#fff" stroke="#fff" stroke-width="0.3" dx="0.08 0.55 -0.87 -0.63">5-14</text>
<text transform="translate(317.3,460.0) scale(1.06,1)" font-size="12.57" fill="#fff" stroke="#fff" stroke-width="0.3" dx="-1.35 -0.91 0.55 0.56 0.44">15-24</text>
<text transform="translate(195.0,450.4) scale(1.06,1)" font-size="12.57" fill="#fff" stroke="#fff" stroke-width="0.3" dx="0.08 0.16 0.55 0.59 0.41">25-34</text>
<text transform="translate(84.1,349.5) scale(1.06,1)" font-size="12.57" fill="#fff" stroke="#fff" stroke-width="0.3" dx="0.11 0.12 0.55 0.85 0.65">35-44</text>
<text transform="translate(105.3,190.3) scale(1.06,1)" font-size="12.57" fill="#fff" stroke="#fff" stroke-width="0.3" dx="0.37 0.36 0.55 0.56 0.44">45-54</text>
<text transform="translate(236.6,133.5) scale(1.06,1)" font-size="12.57" fill="#fff" stroke="#fff" stroke-width="0.3" dx="0.08 0.15 0.55 0.51 0.49">55-64</text>
<text transform="translate(321.9,195.6) scale(1.06,1)" font-size="12.57" fill="#fff" stroke="#fff" stroke-width="0.3" dx="0.03 0.2 0.55 0.55 0.45">65-74</text>
<text transform="translate(352.9,243.5) scale(1.06,1)" font-size="12.57" fill="#fff" stroke="#fff" stroke-width="0.3" dx="0.07 0.16 0.55 0.56 0.44">75-84</text>
<text transform="translate(386.2,270.1) scale(1.06,1)" font-size="12.57" fill="#fff" stroke="#fff" stroke-width="0.3" dx="0.08 0.16 -0.28">85+</text>
</g>
<g id="panel0">
<rect x="526.8" y="38.5" width="24.7" height="89.5" fill="#e9c815"/>
<text transform="translate(534.0,66.2) rotate(90) scale(1.06,1)" font-size="17.14" fill="#fff" font-weight="bold" stroke="#fff" stroke-width="0.3" dx="0.08 0.79 -1.25 -0.94">5-14</text>
<text transform="translate(591.9,50.0) scale(1.06,1)" font-size="12.14" fill="#000" stroke="#000" stroke-width="0.42" dx="-0.7 -0.43 -0.31 -0.02 -0.01 -0.25 0.17 0.29 0.74 -0.81">Populacija</text>
<text transform="translate(655.6,50.0) scale(1.06,1)" font-size="12.14" fill="#000" stroke="#000" stroke-width="0.42" dx="-0.24">:</text>
<text transform="translate(664.0,50.0) scale(1.06,1)" font-size="12.14" fill="#000" stroke="#000" stroke-width="0.42" dx="0.07 -1.23 -0.89 0.15 0.1 0.19">217269</text>
<text transform="translate(564.4,64.85) scale(1.06,1)" font-size="12.14" fill="#000" stroke="#000" stroke-width="0.42" dx="0.23 0.15 0.14 -0.05 0.77 1.29 1.43 0.04 -0.2 0.15 -0.05 0.6">moški/ženske</text>
<text transform="translate(655.6,64.85) scale(1.06,1)" font-size="12.14" fill="#000" stroke="#000" stroke-width="0.42" dx="-0.24">:</text>
<text transform="translate(664.0,64.85) scale(1.06,1)" font-size="12.14" fill="#000" stroke="#000" stroke-width="0.42" dx="-1.3 -2.26 -2.26 -0.89 0.14 0.16 1.26 -0.1 -0.89 0.16 0.17 0.12 0.42">111875/105394</text>
<text transform="translate(576.4,79.7) scale(1.06,1)" font-size="12.14" fill="#000" stroke="#000" stroke-width="0.42" dx="0.07 0.12 -0.23 0.1 -0.01 -0.08 0.29 0.13 -0.3 -0.2 -0.08 -0.16">7d incidenca</text>
<text transform="translate(655.6,79.7) scale(1.06,1)" font-size="12.14" fill="#000" stroke="#000" stroke-width="0.42" dx="-0.24">:</text>
<text transform="translate(664.0,79.7) scale(1.06,1)" font-size="12.14" fill="#000" stroke="#000" stroke-width="0.42" dx="-1.3 -0.89 0.1">186</text>
<text transform="translate(643.5,94.55) scale(1.06,1)" font-size="12.14" fill="#000" stroke="#000" stroke-width="0.42" dx="-1.15">R</text>
<text transform="translate(655.6,94.55) scale(1.06,1)" font-size="12.14" fill="#000" stroke="#000" stroke-width="0.42" dx="-0.24">:</text>
<text transform="translate(664.0,94.55) scale(1.06,1)" font-size="12.14" fill="#000" stroke="#000" stroke-width="0.42" dx="0.07 -0.08 -0.09 0.14">0,87</text>
<text transform="translate(593.6,109.4) scale(1.06,1)" font-size="12.14" fill="#000" stroke="#000" stroke-width="0.42" dx="-0.7 -0.58 0.47 0.32 0.17 -0.34 0.47 0.09 -1.3 -0.92">Primeri 1d</text>
<text transform="translate(655.6,109.4) scale(1.06,1)" font-size="12.14" fill="#000" stroke="#000" stroke-width="0.42" dx="-0.24">:</text>
<text transform="translate(664.0,109.4) scale(1.06,1)" font-size="12.14" fill="#000" stroke="#000" stroke-width="0.42" dx="0.1 0.11 0.07 0.1 -1.26 -0.96 -0.49 0.67 0.5 0.32">37 31 (-6)</text>
<text transform="translate(591.0,124.25) scale(1.06,1)" font-size="12.14" fill="#000" stroke="#000" stroke-width="0.42" dx="-0.7 -0.58 0.47 0.32 0.17 -0.34 0.47 0.09 0.06 0.12">Primeri 7d</text>
<text transform="translate(655.6,124.25) scale(1.06,1)" font-size="12.14" fill="#000" stroke="#000" stroke-width="0.42" dx="-0.24">:</text>
<text transform="translate(664.0,124.25) scale(1.06,1)" font-size="12.14" fill="#000" stroke="#000" stroke-width="0.42" dx="0.36 0.3 0.18 0.07 0.35 0.34 0.43 0.27 -0.49 0.67 0.5 0.22 0.25">467 404 (-63)</text>
<rect x="770.30" y="107.11" width="21.6" height="17.69" fill="#faf7f7"/>
<rect x="792.95" y="110.90" width="21.6" height="13.90" fill="#eef6ee"/>
<rect x="815.60" y="65.40" width="21.6" height="59.40" fill="#d9eed9"/>
<rect x="838.25" y="49.60" width="21.6" height="75.20" fill="#d2ebd2"/>
<rect x="860.90" y="67.29" width="21.6" height="57.51" fill="#cbe8cb"/>
<rect x="883.55" y="56.55" width="21.6" height="68.25" fill="#c7e7c7"/>
<rect x="906.20" y="88.78" width="21.6" height="36.02" fill="#cbe8cb"/>
<rect x="928.85" y="100.79" width="21.6" height="24.01" fill="#cee9ce"/>
<rect x="951.50" y="65.40" width="21.6" height="59.40" fill="#fcfcfc"/>
<rect x="974.15" y="56.55" width="21.6" height="68.25" fill="#faf7f7"/>
<rect x="996.80" y="71.72" width="21.6" height="53.08" fill="#fbf8f8"/>
<rect x="1019.45" y="81.83" width="21.6" height="42.97" fill="#fbf8f8"/>
<rect x="1042.10" y="85.62" width="21.6" height="39.18" fill="#fcfcfc"/>
<rect x="1064.75" y="100.79" width="21.6" height="24.01" fill="#f3f8f3"/>
<rect x="1087.40" y="113.43" width="21.6" height="11.37" fill="#e9f4e9"/>
<rect x="1110.05" y="90.04" width="21.6" height="34.76" fill="#cbe8cb"/>
<rect x="1132.70" y="72.98" width="21.6" height="51.82" fill="#c0e4c0"/>
<rect x="1155.35" y="82.46" width="21.6" height="42.34" fill="#c2e5c2"/>
<rect x="1178.00" y="72.35" width="21.6" height="52.45" fill="#cce9cc"/>
<rect x="1200.65" y="74.25" width="21.6" height="50.55" fill="#def0de"/>
<rect x="1223.30" y="93.84" width="21.6" height="30.96" fill="#e7f4e7"/>
<rect x="1245.95" y="111.53" width="21.6" height="13.27" fill="#eff7ef"/>
<rect x="1268.60" y="86.88" width="21.6" height="37.92" fill="#fbf8f8"/>
<rect x="1291.25" y="103.31" width="21.6" height="21.49" fill="#f6faf6"/>
<rect x="1313.90" y="69.82" width="21.6" height="54.98" fill="#f8f1f1"/>
<rect x="1336.55" y="79.93" width="21.6" height="44.87" fill="#fbfbfb"/>
<rect x="1359.20" y="61.61" width="21.6" height="63.19" fill="#fcfcfc"/>
<rect x="1381.85" y="104.58" width="21.6" height="20.22" fill="#f0f7f0"/>
<rect x="1404.50" y="112.16" width="21.6" height="12.64" fill="#eff7ef"/>
<rect x="1427.15" y="71.72" width="21.6" height="53.08" fill="#f6faf6"/>
<rect x="1449.80" y="66.03" width="21.6" height="58.77" fill="#edd2d2"/>
<rect x="1472.45" y="66.03" width="21.6" height="58.77" fill="#f0dada"/>
<rect x="1495.10" y="84.99" width="21.6" height="39.81" fill="#efd8d8"/>
<rect x="1517.75" y="76.14" width="21.6" height="48.66" fill="#f6ebeb"/>
<rect x="1540.40" y="101.42" width="21.6" height="23.38" fill="#f2e1e1"/>
<rect x="1563.05" y="117.85" width="21.6" height="6.95" fill="#f3e4e4"/>
<rect x="1585.70" y="91.31" width="21.6" height="33.49" fill="#fcfcfc"/>
<rect x="1608.35" y="65.40" width="21.6" height="59.40" fill="#e7f3e7"/>
<rect x="1631.00" y="83.09" width="21.6" height="41.71" fill="#dbefdb"/>
<rect x="1653.65" y="86.88" width="21.6" height="37.92" fill="#dcefdc"/>
<rect x="1676.30" y="68.56" width="21.6" height="56.24" fill="#e8f4e8"/>
<rect x="1698.95" y="105.21" width="21.6" height="19.59" fill="#e4f2e4"/>
<polyline points="781.1,74.4 803.7,76.5 826.4,77.4 849.0,77.9 871.7,77.0 894.3,70.5 917.0,69.3 939.6,72.4 962.3,74.5 984.9,78.7 1007.6,80.4 1030.2,82.2 1052.9,85.7 1075.5,88.1 1098.2,89.6 1120.8,88.2 1143.5,86.6 1166.1,85.6 1188.8,85.3 1211.4,84.9 1234.1,89.2 1256.8,87.4 1279.4,88.5 1302.0,86.7 1324.7,88.2 1347.3,88.3 1370.0,86.2 1392.6,80.8 1415.3,80.3 1437.9,81.0 1460.6,83.1 1483.2,82.6 1505.9,83.5 1528.5,86.3 1551.2,86.2 1573.8,88.6 1596.5,88.9 1619.1,87.8 1641.8,88.3" fill="none" stroke="#8a8a8a" stroke-opacity="0.75" stroke-width="0.9" stroke-dasharray="3.2 1.6"/>
<line x1="769.5" y1="40.0" x2="769.5" y2="125.5" stroke="#8796a0" stroke-width="1"/>
<line x1="769" y1="125.0" x2="1723" y2="125.0" stroke="#8796a0" stroke-width="1"/>
<line x1="767.7" y1="49.599999999999994" x2="770.5" y2="49.599999999999994" stroke="#8796a0" stroke-width="1"/>
<text transform="translate(774.2,51.2) scale(1.06,1)" font-size="11.29" fill="#7f8785" stroke="#7f8785" stroke-width="0.15" dx="-1.21 -2.11 -0.82">119</text>
<text transform="translate(774.3,103.7) scale(1.06,1)" font-size="11.29" fill="#183c3e" stroke="#183c3e" stroke-width="0.45" dx="0.07 0.13">28</text>
<text transform="translate(796.9,107.5) scale(1.06,1)" font-size="11.29" fill="#183c3e" stroke="#183c3e" stroke-width="0.45" dx="0.07 0.13">22</text>
<text transform="translate(819.4,62.0) scale(1.06,1)" font-size="11.29" fill="#183c3e" stroke="#183c3e" stroke-width="0.45" dx="0.07 0.39">94</text>
<text transform="translate(841.2,46.2) scale(1.06,1)" font-size="11.29" fill="#183c3e" stroke="#183c3e" stroke-width="0.45" dx="-1.21 -2.11 -0.82">119</text>
<text transform="translate(866.1,63.9) scale(1.06,1)" font-size="11.29" fill="#183c3e" stroke="#183c3e" stroke-width="0.45" dx="0.07 -1.15">91</text>
<text transform="translate(885.3,53.2) scale(1.06,1)" font-size="11.29" fill="#183c3e" stroke="#183c3e" stroke-width="0.45" dx="-1.21 -0.84 0.14">108</text>
<text transform="translate(910.2,85.4) scale(1.06,1)" font-size="11.29" fill="#183c3e" stroke="#183c3e" stroke-width="0.45" dx="0.07 0.12">57</text>
<text transform="translate(932.8,97.4) scale(1.06,1)" font-size="11.29" fill="#183c3e" stroke="#183c3e" stroke-width="0.45" dx="0.09 0.1">38</text>
<text transform="translate(955.3,62.0) scale(1.06,1)" font-size="11.29" fill="#183c3e" stroke="#183c3e" stroke-width="0.45" dx="0.07 0.39">94</text>
<text transform="translate(975.9,53.2) scale(1.06,1)" font-size="11.29" fill="#183c3e" stroke="#183c3e" stroke-width="0.45" dx="-1.21 -0.84 0.14">108</text>
<text transform="translate(1000.6,68.3) scale(1.06,1)" font-size="11.29" fill="#183c3e" stroke="#183c3e" stroke-width="0.45" dx="0.07 0.39">84</text>
<text transform="translate(1023.4,78.4) scale(1.06,1)" font-size="11.29" fill="#183c3e" stroke="#183c3e" stroke-width="0.45" dx="0.03 0.17">68</text>
<text transform="translate(1046.1,82.2) scale(1.06,1)" font-size="11.29" fill="#183c3e" stroke="#183c3e" stroke-width="0.45" dx="0.03 0.17">62</text>
<text transform="translate(1068.7,97.4) scale(1.06,1)" font-size="11.29" fill="#183c3e" stroke="#183c3e" stroke-width="0.45" dx="0.09 0.1">38</text>
<text transform="translate(1092.6,110.0) scale(1.06,1)" font-size="11.29" fill="#183c3e" stroke="#183c3e" stroke-width="0.45" dx="-1.21 -0.83">18</text>
<text transform="translate(1114.0,86.6) scale(1.06,1)" font-size="11.29" fill="#183c3e" stroke="#183c3e" stroke-width="0.45" dx="0.07 0.13">55</text>
<text transform="translate(1136.7,69.6) scale(1.06,1)" font-size="11.29" fill="#183c3e" stroke="#183c3e" stroke-width="0.45" dx="0.07 0.13">82</text>
<text transform="translate(1159.3,79.1) scale(1.06,1)" font-size="11.29" fill="#183c3e" stroke="#183c3e" stroke-width="0.45" dx="0.03 0.16">67</text>
<text transform="translate(1182.0,68.9) scale(1.06,1)" font-size="11.29" fill="#183c3e" stroke="#183c3e" stroke-width="0.45" dx="0.07 0.16">83</text>
<text transform="translate(1204.6,70.8) scale(1.06,1)" font-size="11.29" fill="#183c3e" stroke="#183c3e" stroke-width="0.45" dx="0.07 0.12">80</text>
<text transform="translate(1227.1,90.4) scale(1.06,1)" font-size="11.29" fill="#183c3e" stroke="#183c3e" stroke-width="0.45" dx="0.33 0.32">49</text>
<text transform="translate(1251.1,108.1) scale(1.06,1)" font-size="11.29" fill="#183c3e" stroke="#183c3e" stroke-width="0.45" dx="0.07 -1.15">21</text>
<text transform="translate(1272.6,83.5) scale(1.06,1)" font-size="11.29" fill="#183c3e" stroke="#183c3e" stroke-width="0.45" dx="0.03 0.16">60</text>
<text transform="translate(1295.0,99.9) scale(1.06,1)" font-size="11.29" fill="#183c3e" stroke="#183c3e" stroke-width="0.45" dx="0.09 0.37">34</text>
<text transform="translate(1317.9,66.4) scale(1.06,1)" font-size="11.29" fill="#183c3e" stroke="#183c3e" stroke-width="0.45" dx="0.07 0.12">87</text>
<text transform="translate(1341.7,76.5) scale(1.06,1)" font-size="11.29" fill="#183c3e" stroke="#183c3e" stroke-width="0.45" dx="0.06 -1.14">71</text>
<text transform="translate(1361.0,58.2) scale(1.06,1)" font-size="11.29" fill="#183c3e" stroke="#183c3e" stroke-width="0.45" dx="-1.21 -0.84 0.13">100</text>
<text transform="translate(1385.8,101.2) scale(1.06,1)" font-size="11.29" fill="#183c3e" stroke="#183c3e" stroke-width="0.45" dx="0.09 0.1">32</text>
<text transform="translate(1408.5,108.8) scale(1.06,1)" font-size="11.29" fill="#183c3e" stroke="#183c3e" stroke-width="0.45" dx="0.07 0.12">20</text>
<text transform="translate(1430.9,68.3) scale(1.06,1)" font-size="11.29" fill="#183c3e" stroke="#183c3e" stroke-width="0.45" dx="0.07 0.39">84</text>
<text transform="translate(1453.8,62.6) scale(1.06,1)" font-size="11.29" fill="#183c3e" stroke="#183c3e" stroke-width="0.45" dx="0.07 0.15">93</text>
<text transform="translate(1476.4,62.6) scale(1.06,1)" font-size="11.29" fill="#183c3e" stroke="#183c3e" stroke-width="0.45" dx="0.07 0.15">93</text>
<text transform="translate(1499.1,81.6) scale(1.06,1)" font-size="11.29" fill="#183c3e" stroke="#183c3e" stroke-width="0.45" dx="0.03 0.2">63</text>
<text transform="translate(1521.7,72.7) scale(1.06,1)" font-size="11.29" fill="#183c3e" stroke="#183c3e" stroke-width="0.45" dx="0.06 0.13">77</text>
<text transform="translate(1544.4,98.0) scale(1.06,1)" font-size="11.29" fill="#183c3e" stroke="#183c3e" stroke-width="0.45" dx="0.09 0.1">37</text>
<text transform="translate(1569.4,114.4) scale(1.06,1)" font-size="11.29" fill="#183c3e" stroke="#183c3e" stroke-width="0.45" dx="-1.21 -2.11">11</text>
<text transform="translate(1589.7,87.9) scale(1.06,1)" font-size="11.29" fill="#183c3e" stroke="#183c3e" stroke-width="0.45" dx="0.07 0.15">53</text>
<text transform="translate(1612.1,62.0) scale(1.06,1)" font-size="11.29" fill="#183c3e" stroke="#183c3e" stroke-width="0.45" dx="0.07 0.39">94</text>
<text transform="translate(1635.0,79.7) scale(1.06,1)" font-size="11.29" fill="#183c3e" stroke="#183c3e" stroke-width="0.45" dx="0.03 0.13">66</text>
<text transform="translate(1657.6,83.5) scale(1.06,1)" font-size="11.29" fill="#183c3e" stroke="#183c3e" stroke-width="0.45" dx="0.03 0.16">60</text>
<text transform="translate(1680.3,65.2) scale(1.06,1)" font-size="11.29" fill="#183c3e" stroke="#183c3e" stroke-width="0.45" dx="0.07 0.14">89</text>
<text transform="translate(1704.1,101.8) scale(1.06,1)" font-size="11.29" fill="#183c3e" stroke="#183c3e" stroke-width="0.45" dx="0.09 -1.17">31</text>
<line x1="917.0" y1="123.3" x2="917.0" y2="126.3" stroke="#1c4346" stroke-width="1"/>
<text transform="translate(895.7,136.7) scale(1.06,1)" font-size="10.14" fill="#1c4346" stroke="#1c4346" stroke-width="0.3" dx="-1.14 -0.89 -0.26 -0.03 -0.11 -0.26 -0.06 -0.05 -1.17">10.4.2021</text>
<line x1="1075.5" y1="123.3" x2="1075.5" y2="126.3" stroke="#1c4346" stroke-width="1"/>
<text transform="translate(1054.2,136.7) scale(1.06,1)" font-size="10.14" fill="#1c4346" stroke="#1c4346" stroke-width="0.3" dx="-1.14 -0.89 -0.26 -0.03 -0.11 -0.26 -0.06 -0.05 -1.17">17.4.2021</text>
<line x1="1234.1" y1="123.3" x2="1234.1" y2="126.3" stroke="#1c4346" stroke-width="1"/>
<text transform="translate(1211.5,136.7) scale(1.06,1)" font-size="10.14" fill="#1c4346" stroke="#1c4346" stroke-width="0.3" dx="-0.03 0.18 -0.11 -0.03 -0.11 -0.26 -0.06 -0.05 -1.17">24.4.2021</text>
<line x1="1392.6" y1="123.3" x2="1392.6" y2="126.3" stroke="#1c4346" stroke-width="1"/>
<text transform="translate(1374.4,136.7) scale(1.06,1)" font-size="10.14" fill="#1c4346" stroke="#1c4346" stroke-width="0.3" dx="-1.14 -1.1 -0.26 -0.27 -0.26 -0.06 -0.05 -1.17">1.5.2021</text>
<line x1="1551.2" y1="123.3" x2="1551.2" y2="126.3" stroke="#1c4346" stroke-width="1"/>
<text transform="translate(1532.0,136.7) scale(1.06,1)" font-size="10.14" fill="#1c4346" stroke="#1c4346" stroke-width="0.3" dx="-0.03 -0.27 -0.26 -0.27 -0.26 -0.06 -0.05 -1.17">8.5.2021</text>
<line x1="1709.8" y1="123.3" x2="1709.8" y2="126.3" stroke="#1c4346" stroke-width="1"/>
<text transform="translate(1688.7,136.7) scale(1.06,1)" font-size="10.14" fill="#1c4346" stroke="#1c4346" stroke-width="0.3" dx="-1.14 -0.88 -0.27 -0.26 -0.27 -0.26 -0.06 -0.05 -1.17">15.5.2021</text>
</g>
<g id="panel1">
<rect x="526.8" y="143.5" width="24.7" height="89.5" fill="#d3ba2a"/>
<text transform="translate(534.0,166.8) rotate(90) scale(1.06,1)" font-size="17.14" fill="#fff" font-weight="bold" stroke="#fff" stroke-width="0.3" dx="-1.9 -1.22 0.79 0.79 0.41">15-24</text>
<text transform="translate(591.9,155.0) scale(1.06,1)" font-size="12.14" fill="#000" stroke="#000" stroke-width="0.42" dx="-0.7 -0.43 -0.31 -0.02 -0.01 -0.25 0.17 0.29 0.74 -0.81">Populacija</text>
<text transform="translate(655.6,155.0) scale(1.06,1)" font-size="12.14" fill="#000" stroke="#000" stroke-width="0.42" dx="-0.24">:</text>
<text transform="translate(664.0,155.0) scale(1.06,1)" font-size="12.14" fill="#000" stroke="#000" stroke-width="0.42" dx="-1.3 -0.88 0.42 0.34 0.14 0.14">194000</text>
<text transform="translate(564.4,169.85) scale(1.06,1)" font-size="12.14" fill="#000" stroke="#000" stroke-width="0.42" dx="0.23 0.15 0.14 -0.05 0.77 1.29 1.43 0.04 -0.2 0.15 -0.05 0.6">moški/ženske</text>
<text transform="translate(655.6,169.85) scale(1.06,1)" font-size="12.14" fill="#000" stroke="#000" stroke-width="0.42" dx="-0.24">:</text>
<text transform="translate(664.0,169.85) scale(1.06,1)" font-size="12.14" fill="#000" stroke="#000" stroke-width="0.42" dx="-1.3 -0.89 0.14 0.43 0.34 0.14 1.27 1.28 0.17 0.12 -1.23 -0.89">100488/93512</text>
<text transform="translate(576.4,184.7) scale(1.06,1)" font-size="12.14" fill="#000" stroke="#000" stroke-width="0.42" dx="0.07 0.12 -0.23 0.1 -0.01 -0.08 0.29 0.13 -0.3 -0.2 -0.08 -0.16">7d incidenca</text>
<text transform="translate(655.6,184.7) scale(1.06,1)" font-size="12.14" fill="#000" stroke="#000" stroke-width="0.42" dx="-0.24">:</text>
<text transform="translate(664.0,184.7) scale(1.06,1)" font-size="12.14" fill="#000" stroke="#000" stroke-width="0.42" dx="0.07 -1.23 -0.61">214</text>
<text transform="translate(643.5,199.55) scale(1.06,1)" font-size="12.14" fill="#000" stroke="#000" stroke-width="0.42" dx="-1.15">R</text>
<text transform="translate(655.6,199.55) scale(1.06,1)" font-size="12.14" fill="#000" stroke="#000" stroke-width="0.42" dx="-0.24">:</text>
<text transform="translate(664.0,199.55) scale(1.06,1)" font-size="12.14" fill="#000" stroke="#000" stroke-width="0.42" dx="0.07 -0.08 -0.1 0.16">0,75</text>
<text transform="translate(593.6,214.4) scale(1.06,1)" font-size="12.14" fill="#000" stroke="#000" stroke-width="0.42" dx="-0.7 -0.58 0.47 0.32 0.17 -0.34 0.47 0.09 -1.3 -0.92">Primeri 1d</text>
<text transform="translate(655.6,214.4) scale(1.06,1)" font-size="12.14" fill="#000" stroke="#000" stroke-width="0.42" dx="-0.24">:</text>
<text transform="translate(664.0,214.4) scale(1.06,1)" font-size="12.14" fill="#000" stroke="#000" stroke-width="0.42" dx="0.36 0.34 0.07 0.35 0.35 0.06 -0.49 -0.12 -0.28 0.29">42 49 (+7)</text>
<text transform="translate(591.0,229.25) scale(1.06,1)" font-size="12.14" fill="#000" stroke="#000" stroke-width="0.42" dx="-0.7 -0.58 0.47 0.32 0.17 -0.34 0.47 0.09 0.06 0.12">Primeri 7d</text>
<text transform="translate(655.6,229.25) scale(1.06,1)" font-size="12.14" fill="#000" stroke="#000" stroke-width="0.42" dx="-0.24">:</text>
<text transform="translate(664.0,229.25) scale(1.06,1)" font-size="12.14" fill="#000" stroke="#000" stroke-width="0.42" dx="0.08 0.14 0.42 0.27 0.35 -1.03 -0.88 0.06 -0.49 0.67 -0.84 -0.86 0.12 0.27">554 415 (-139)</text>
<rect x="770.30" y="210.89" width="21.6" height="18.91" fill="#ecd0d0"/>
<rect x="792.95" y="216.17" width="21.6" height="13.63" fill="#f4e7e7"/>
<rect x="815.60" y="171.31" width="21.6" height="58.49" fill="#fbf8f8"/>
<rect x="838.25" y="154.60" width="21.6" height="75.20" fill="#f7faf7"/>
<rect x="860.90" y="158.12" width="21.6" height="71.68" fill="#f7faf7"/>
<rect x="883.55" y="167.79" width="21.6" height="62.01" fill="#e7f3e7"/>
<rect x="906.20" y="206.93" width="21.6" height="22.87" fill="#d0ead0"/>
<rect x="928.85" y="217.93" width="21.6" height="11.87" fill="#d0ead0"/>
<rect x="951.50" y="173.07" width="21.6" height="56.73" fill="#eaf5ea"/>
<rect x="974.15" y="167.35" width="21.6" height="62.45" fill="#f7faf7"/>
<rect x="996.80" y="184.06" width="21.6" height="45.74" fill="#f0f7f0"/>
<rect x="1019.45" y="174.39" width="21.6" height="55.41" fill="#eaf5ea"/>
<rect x="1042.10" y="185.82" width="21.6" height="43.98" fill="#eaf5ea"/>
<rect x="1064.75" y="205.17" width="21.6" height="24.63" fill="#f0f7f0"/>
<rect x="1087.40" y="218.81" width="21.6" height="10.99" fill="#f3f8f3"/>
<rect x="1110.05" y="189.78" width="21.6" height="40.02" fill="#d7edd7"/>
<rect x="1132.70" y="173.51" width="21.6" height="56.29" fill="#d2ebd2"/>
<rect x="1155.35" y="184.50" width="21.6" height="45.30" fill="#def0de"/>
<rect x="1178.00" y="168.23" width="21.6" height="61.57" fill="#e9f4e9"/>
<rect x="1200.65" y="168.67" width="21.6" height="61.13" fill="#fcfbfb"/>
<rect x="1223.30" y="206.05" width="21.6" height="23.75" fill="#fbfcfb"/>
<rect x="1245.95" y="219.69" width="21.6" height="10.11" fill="#fbfcfb"/>
<rect x="1268.60" y="184.94" width="21.6" height="44.86" fill="#f8f0f0"/>
<rect x="1291.25" y="207.37" width="21.6" height="22.43" fill="#f7faf7"/>
<rect x="1313.90" y="178.79" width="21.6" height="51.01" fill="#fbfcfb"/>
<rect x="1336.55" y="183.18" width="21.6" height="46.62" fill="#eef6ee"/>
<rect x="1359.20" y="160.32" width="21.6" height="69.48" fill="#e9f4e9"/>
<rect x="1381.85" y="204.73" width="21.6" height="25.07" fill="#ebf5eb"/>
<rect x="1404.50" y="220.13" width="21.6" height="9.67" fill="#ebf5eb"/>
<rect x="1427.15" y="185.38" width="21.6" height="44.42" fill="#e8f4e8"/>
<rect x="1449.80" y="177.91" width="21.6" height="51.89" fill="#f5e9e9"/>
<rect x="1472.45" y="186.70" width="21.6" height="43.10" fill="#f8f2f2"/>
<rect x="1495.10" y="192.86" width="21.6" height="36.94" fill="#f7eeee"/>
<rect x="1517.75" y="190.66" width="21.6" height="39.14" fill="#f0f7f0"/>
<rect x="1540.40" y="211.33" width="21.6" height="18.47" fill="#ebf5eb"/>
<rect x="1563.05" y="220.56" width="21.6" height="9.24" fill="#ebf5eb"/>
<rect x="1585.70" y="206.49" width="21.6" height="23.31" fill="#ddf0dd"/>
<rect x="1608.35" y="190.66" width="21.6" height="39.14" fill="#c7e7c7"/>
<rect x="1631.00" y="194.18" width="21.6" height="35.62" fill="#c6e6c6"/>
<rect x="1653.65" y="203.85" width="21.6" height="25.95" fill="#c4e5c4"/>
<rect x="1676.30" y="202.09" width="21.6" height="27.71" fill="#cae8ca"/>
<rect x="1698.95" y="208.25" width="21.6" height="21.55" fill="#d0ead0"/>
<polyline points="781.1,177.5 803.7,176.1 826.4,180.1 849.0,183.7 871.7,184.7 894.3,178.5 917.0,178.0 939.6,182.2 962.3,184.5 984.9,187.1 1007.6,186.8 1030.2,187.0 1052.9,189.3 1075.5,190.2 1098.2,190.3 1120.8,189.4 1143.5,187.0 1166.1,187.1 1188.8,187.2 1211.4,186.5 1234.1,191.4 1256.8,190.5 1279.4,192.7 1302.0,191.5 1324.7,191.3 1347.3,191.4 1370.0,191.4 1392.6,187.2 1415.3,188.3 1437.9,189.7 1460.6,194.1 1483.2,195.0 1505.9,195.1 1528.5,198.1 1551.2,199.9 1573.8,201.0 1596.5,202.5 1619.1,204.2 1641.8,203.7" fill="none" stroke="#8a8a8a" stroke-opacity="0.75" stroke-width="0.9" stroke-dasharray="3.2 1.6"/>
<line x1="769.5" y1="145.0" x2="769.5" y2="230.5" stroke="#8796a0" stroke-width="1"/>
<line x1="769" y1="230.0" x2="1723" y2="230.0" stroke="#8796a0" stroke-width="1"/>
<line x1="767.7" y1="154.60000000000002" x2="770.5" y2="154.60000000000002" stroke="#8796a0" stroke-width="1"/>
<text transform="translate(774.2,156.2) scale(1.06,1)" font-size="11.29" fill="#7f8785" stroke="#7f8785" stroke-width="0.15" dx="-1.21 -0.84 -1.14">171</text>
<text transform="translate(774.1,207.5) scale(1.06,1)" font-size="11.29" fill="#183c3e" stroke="#183c3e" stroke-width="0.45" dx="0.33 0.34">43</text>
<text transform="translate(798.1,212.8) scale(1.06,1)" font-size="11.29" fill="#183c3e" stroke="#183c3e" stroke-width="0.45" dx="0.09 -1.17">31</text>
<text transform="translate(817.4,167.9) scale(1.06,1)" font-size="11.29" fill="#183c3e" stroke="#183c3e" stroke-width="0.45" dx="-1.21 -0.8 0.13">133</text>
<text transform="translate(841.2,151.2) scale(1.06,1)" font-size="11.29" fill="#183c3e" stroke="#183c3e" stroke-width="0.45" dx="-1.21 -0.84 -1.14">171</text>
<text transform="translate(862.7,154.7) scale(1.06,1)" font-size="11.29" fill="#183c3e" stroke="#183c3e" stroke-width="0.45" dx="-1.21 -0.87 0.2">163</text>
<text transform="translate(886.2,164.4) scale(1.06,1)" font-size="11.29" fill="#183c3e" stroke="#183c3e" stroke-width="0.45" dx="-1.21 -0.57 -0.96">141</text>
<text transform="translate(910.2,203.5) scale(1.06,1)" font-size="11.29" fill="#183c3e" stroke="#183c3e" stroke-width="0.45" dx="0.07 0.12">52</text>
<text transform="translate(932.8,214.5) scale(1.06,1)" font-size="11.29" fill="#183c3e" stroke="#183c3e" stroke-width="0.45" dx="0.07 0.12">27</text>
<text transform="translate(953.3,169.7) scale(1.06,1)" font-size="11.29" fill="#183c3e" stroke="#183c3e" stroke-width="0.45" dx="-1.21 -0.83 0.14">129</text>
<text transform="translate(975.7,164.0) scale(1.06,1)" font-size="11.29" fill="#183c3e" stroke="#183c3e" stroke-width="0.45" dx="-1.21 -0.57 0.31">142</text>
<text transform="translate(998.4,180.7) scale(1.06,1)" font-size="11.29" fill="#183c3e" stroke="#183c3e" stroke-width="0.45" dx="-1.21 -0.84 0.4">104</text>
<text transform="translate(1021.2,171.0) scale(1.06,1)" font-size="11.29" fill="#183c3e" stroke="#183c3e" stroke-width="0.45" dx="-1.21 -0.83 0.09">126</text>
<text transform="translate(1043.9,182.4) scale(1.06,1)" font-size="11.29" fill="#183c3e" stroke="#183c3e" stroke-width="0.45" dx="-1.21 -0.84 0.13">100</text>
<text transform="translate(1068.7,201.8) scale(1.06,1)" font-size="11.29" fill="#183c3e" stroke="#183c3e" stroke-width="0.45" dx="0.07 0.09">56</text>
<text transform="translate(1091.4,215.4) scale(1.06,1)" font-size="11.29" fill="#183c3e" stroke="#183c3e" stroke-width="0.45" dx="0.07 0.14">25</text>
<text transform="translate(1115.2,186.4) scale(1.06,1)" font-size="11.29" fill="#183c3e" stroke="#183c3e" stroke-width="0.45" dx="0.07 -1.15">91</text>
<text transform="translate(1134.5,170.1) scale(1.06,1)" font-size="11.29" fill="#183c3e" stroke="#183c3e" stroke-width="0.45" dx="-1.21 -0.83 0.13">128</text>
<text transform="translate(1157.1,181.1) scale(1.06,1)" font-size="11.29" fill="#183c3e" stroke="#183c3e" stroke-width="0.45" dx="-1.21 -0.84 0.16">103</text>
<text transform="translate(1179.6,164.8) scale(1.06,1)" font-size="11.29" fill="#183c3e" stroke="#183c3e" stroke-width="0.45" dx="-1.21 -0.57 0.31">140</text>
<text transform="translate(1202.4,165.3) scale(1.06,1)" font-size="11.29" fill="#183c3e" stroke="#183c3e" stroke-width="0.45" dx="-1.21 -0.8 0.11">139</text>
<text transform="translate(1227.1,202.7) scale(1.06,1)" font-size="11.29" fill="#183c3e" stroke="#183c3e" stroke-width="0.45" dx="0.07 0.39">54</text>
<text transform="translate(1249.9,216.3) scale(1.06,1)" font-size="11.29" fill="#183c3e" stroke="#183c3e" stroke-width="0.45" dx="0.07 0.16">23</text>
<text transform="translate(1270.4,181.5) scale(1.06,1)" font-size="11.29" fill="#183c3e" stroke="#183c3e" stroke-width="0.45" dx="-1.21 -0.84 0.14">102</text>
<text transform="translate(1296.4,204.0) scale(1.06,1)" font-size="11.29" fill="#183c3e" stroke="#183c3e" stroke-width="0.45" dx="0.07 -1.15">51</text>
<text transform="translate(1316.9,175.4) scale(1.06,1)" font-size="11.29" fill="#183c3e" stroke="#183c3e" stroke-width="0.45" dx="-1.21 -2.11 -0.87">116</text>
<text transform="translate(1338.3,179.8) scale(1.06,1)" font-size="11.29" fill="#183c3e" stroke="#183c3e" stroke-width="0.45" dx="-1.21 -0.84 0.1">106</text>
<text transform="translate(1361.0,156.9) scale(1.06,1)" font-size="11.29" fill="#183c3e" stroke="#183c3e" stroke-width="0.45" dx="-1.21 -0.82 0.12">158</text>
<text transform="translate(1385.8,201.3) scale(1.06,1)" font-size="11.29" fill="#183c3e" stroke="#183c3e" stroke-width="0.45" dx="0.07 0.12">57</text>
<text transform="translate(1408.5,216.7) scale(1.06,1)" font-size="11.29" fill="#183c3e" stroke="#183c3e" stroke-width="0.45" dx="0.07 0.13">22</text>
<text transform="translate(1430.1,182.0) scale(1.06,1)" font-size="11.29" fill="#183c3e" stroke="#183c3e" stroke-width="0.45" dx="-1.21 -0.84 -1.14">101</text>
<text transform="translate(1452.8,174.5) scale(1.06,1)" font-size="11.29" fill="#183c3e" stroke="#183c3e" stroke-width="0.45" dx="-1.21 -2.11 -0.83">118</text>
<text transform="translate(1476.4,183.3) scale(1.06,1)" font-size="11.29" fill="#183c3e" stroke="#183c3e" stroke-width="0.45" dx="0.07 0.12">98</text>
<text transform="translate(1498.9,189.5) scale(1.06,1)" font-size="11.29" fill="#183c3e" stroke="#183c3e" stroke-width="0.45" dx="0.07 0.39">84</text>
<text transform="translate(1521.7,187.3) scale(1.06,1)" font-size="11.29" fill="#183c3e" stroke="#183c3e" stroke-width="0.45" dx="0.07 0.14">89</text>
<text transform="translate(1544.2,207.9) scale(1.06,1)" font-size="11.29" fill="#183c3e" stroke="#183c3e" stroke-width="0.45" dx="0.33 0.31">42</text>
<text transform="translate(1568.2,217.2) scale(1.06,1)" font-size="11.29" fill="#183c3e" stroke="#183c3e" stroke-width="0.45" dx="0.07 -1.15">21</text>
<text transform="translate(1589.7,203.1) scale(1.06,1)" font-size="11.29" fill="#183c3e" stroke="#183c3e" stroke-width="0.45" dx="0.07 0.15">53</text>
<text transform="translate(1612.3,187.3) scale(1.06,1)" font-size="11.29" fill="#183c3e" stroke="#183c3e" stroke-width="0.45" dx="0.07 0.14">89</text>
<text transform="translate(1636.2,190.8) scale(1.06,1)" font-size="11.29" fill="#183c3e" stroke="#183c3e" stroke-width="0.45" dx="0.07 -1.15">81</text>
<text transform="translate(1657.6,200.5) scale(1.06,1)" font-size="11.29" fill="#183c3e" stroke="#183c3e" stroke-width="0.45" dx="0.07 0.13">59</text>
<text transform="translate(1680.3,198.7) scale(1.06,1)" font-size="11.29" fill="#183c3e" stroke="#183c3e" stroke-width="0.45" dx="0.03 0.2">63</text>
<text transform="translate(1702.7,204.9) scale(1.06,1)" font-size="11.29" fill="#183c3e" stroke="#183c3e" stroke-width="0.45" dx="0.33 0.32">49</text>
<line x1="917.0" y1="228.3" x2="917.0" y2="231.3" stroke="#1c4346" stroke-width="1"/>
<text transform="translate(895.7,241.7) scale(1.06,1)" font-size="10.14" fill="#1c4346" stroke="#1c4346" stroke-width="0.3" dx="-1.14 -0.89 -0.26 -0.03 -0.11 -0.26 -0.06 -0.05 -1.17">10.4.2021</text>
<line x1="1075.5" y1="228.3" x2="1075.5" y2="231.3" stroke="#1c4346" stroke-width="1"/>
<text transform="translate(1054.2,241.7) scale(1.06,1)" font-size="10.14" fill="#1c4346" stroke="#1c4346" stroke-width="0.3" dx="-1.14 -0.89 -0.26 -0.03 -0.11 -0.26 -0.06 -0.05 -1.17">17.4.2021</text>
<line x1="1234.1" y1="228.3" x2="1234.1" y2="231.3" stroke="#1c4346" stroke-width="1"/>
<text transform="translate(1211.5,241.7) scale(1.06,1)" font-size="10.14" fill="#1c4346" stroke="#1c4346" stroke-width="0.3" dx="-0.03 0.18 -0.11 -0.03 -0.11 -0.26 -0.06 -0.05 -1.17">24.4.2021</text>
<line x1="1392.6" y1="228.3" x2="1392.6" y2="231.3" stroke="#1c4346" stroke-width="1"/>
<text transform="translate(1374.4,241.7) scale(1.06,1)" font-size="10.14" fill="#1c4346" stroke="#1c4346" stroke-width="0.3" dx="-1.14 -1.1 -0.26 -0.27 -0.26 -0.06 -0.05 -1.17">1.5.2021</text>
<line x1="1551.2" y1="228.3" x2="1551.2" y2="231.3" stroke="#1c4346" stroke-width="1"/>
<text transform="translate(1532.0,241.7) scale(1.06,1)" font-size="10.14" fill="#1c4346" stroke="#1c4346" stroke-width="0.3" dx="-0.03 -0.27 -0.26 -0.27 -0.26 -0.06 -0.05 -1.17">8.5.2021</text>
<line x1="1709.8" y1="228.3" x2="1709.8" y2="231.3" stroke="#1c4346" stroke-width="1"/>
<text transform="translate(1688.7,241.7) scale(1.06,1)" font-size="10.14" fill="#1c4346" stroke="#1c4346" stroke-width="0.3" dx="-1.14 -0.88 -0.27 -0.26 -0.27 -0.26 -0.06 -0.05 -1.17">15.5.2021</text>
</g>
<g id="panel2">
<rect x="526.8" y="248.5" width="24.7" height="89.5" fill="#a79c54"/>
<text transform="translate(534.0,268.8) rotate(90) scale(1.06,1)" font-size="17.14" fill="#fff" font-weight="bold" stroke="#fff" stroke-width="0.3" dx="0.21 0.07 0.79 1 0.88">35-44</text>
<text transform="translate(591.9,260.0) scale(1.06,1)" font-size="12.14" fill="#000" stroke="#000" stroke-width="0.42" dx="-0.7 -0.43 -0.31 -0.02 -0.01 -0.25 0.17 0.29 0.74 -0.81">Populacija</text>
<text transform="translate(655.6,260.0) scale(1.06,1)" font-size="12.14" fill="#000" stroke="#000" stroke-width="0.42" dx="-0.24">:</text>
<text transform="translate(664.0,260.0) scale(1.06,1)" font-size="12.14" fill="#000" stroke="#000" stroke-width="0.42" dx="0.1 0.11 0.14 0.15 0.14 0.16">307279</text>
<text transform="translate(564.4,274.85) scale(1.06,1)" font-size="12.14" fill="#000" stroke="#000" stroke-width="0.42" dx="0.23 0.15 0.14 -0.05 0.77 1.29 1.43 0.04 -0.2 0.15 -0.05 0.6">moški/ženske</text>
<text transform="translate(655.6,274.85) scale(1.06,1)" font-size="12.14" fill="#000" stroke="#000" stroke-width="0.42" dx="-0.24">:</text>
<text transform="translate(664.0,274.85) scale(1.06,1)" font-size="12.14" fill="#000" stroke="#000" stroke-width="0.42" dx="-1.3 -0.93 0.18 -1.22 -0.88 -1.23 0.24 -0.1 -0.61 0.34 0.14 0.15 0.14">160191/147088</text>
<text transform="translate(576.4,289.7) scale(1.06,1)" font-size="12.14" fill="#000" stroke="#000" stroke-width="0.42" dx="0.07 0.12 -0.23 0.1 -0.01 -0.08 0.29 0.13 -0.3 -0.2 -0.08 -0.16">7d incidenca</text>
<text transform="translate(655.6,289.7) scale(1.06,1)" font-size="12.14" fill="#000" stroke="#000" stroke-width="0.42" dx="-0.24">:</text>
<text transform="translate(664.0,289.7) scale(1.06,1)" font-size="12.14" fill="#000" stroke="#000" stroke-width="0.42" dx="0.07 0.14 0.16">209</text>
<text transform="translate(643.5,304.55) scale(1.06,1)" font-size="12.14" fill="#000" stroke="#000" stroke-width="0.42" dx="-1.15">R</text>
<text transform="translate(655.6,304.55) scale(1.06,1)" font-size="12.14" fill="#000" stroke="#000" stroke-width="0.42" dx="-0.24">:</text>
<text transform="translate(664.0,304.55) scale(1.06,1)" font-size="12.14" fill="#000" stroke="#000" stroke-width="0.42" dx="0.07 -0.08 -0.14 0.19">0,69</text>
<text transform="translate(593.6,319.4) scale(1.06,1)" font-size="12.14" fill="#000" stroke="#000" stroke-width="0.42" dx="-0.7 -0.58 0.47 0.32 0.17 -0.34 0.47 0.09 -1.3 -0.92">Primeri 1d</text>
<text transform="translate(655.6,319.4) scale(1.06,1)" font-size="12.14" fill="#000" stroke="#000" stroke-width="0.42" dx="-0.24">:</text>
<text transform="translate(664.0,319.4) scale(1.06,1)" font-size="12.14" fill="#000" stroke="#000" stroke-width="0.42" dx="0.08 0.14 0.06 0.35 0.35 0.06 -0.49 0.67 -0.84 -0.89 0.29">59 49 (-10)</text>
<text transform="translate(591.0,334.25) scale(1.06,1)" font-size="12.14" fill="#000" stroke="#000" stroke-width="0.42" dx="-0.7 -0.58 0.47 0.32 0.17 -0.34 0.47 0.09 0.06 0.12">Primeri 7d</text>
<text transform="translate(655.6,334.25) scale(1.06,1)" font-size="12.14" fill="#000" stroke="#000" stroke-width="0.42" dx="-0.24">:</text>
<text transform="translate(664.0,334.25) scale(1.06,1)" font-size="12.14" fill="#000" stroke="#000" stroke-width="0.42" dx="0.08 0.14 0.14 0.07 0.03 0.47 0.37 0.04 -0.49 0.67 0.54 0.14 0.15 0.27">928 643 (-285)</text>
<rect x="770.30" y="319.90" width="21.6" height="14.90" fill="#f7eeee"/>
<rect x="792.95" y="321.76" width="21.6" height="13.04" fill="#fbf8f8"/>
<rect x="815.60" y="277.29" width="21.6" height="57.51" fill="#f5f9f5"/>
<rect x="838.25" y="259.60" width="21.6" height="75.20" fill="#f5f9f5"/>
<rect x="860.90" y="267.05" width="21.6" height="67.75" fill="#f7faf7"/>
<rect x="883.55" y="274.73" width="21.6" height="60.07" fill="#f3f8f3"/>
<rect x="906.20" y="307.56" width="21.6" height="27.24" fill="#eef6ee"/>
<rect x="928.85" y="318.97" width="21.6" height="15.83" fill="#eaf5ea"/>
<rect x="951.50" y="284.98" width="21.6" height="49.82" fill="#f6eaea"/>
<rect x="974.15" y="280.79" width="21.6" height="54.01" fill="#f2e2e2"/>
<rect x="996.80" y="292.19" width="21.6" height="42.61" fill="#fcfcfc"/>
<rect x="1019.45" y="298.01" width="21.6" height="36.79" fill="#eef6ee"/>
<rect x="1042.10" y="303.60" width="21.6" height="31.20" fill="#dcefdc"/>
<rect x="1064.75" y="314.54" width="21.6" height="20.26" fill="#d8edd8"/>
<rect x="1087.40" y="326.65" width="21.6" height="8.15" fill="#d3ebd3"/>
<rect x="1110.05" y="299.64" width="21.6" height="35.16" fill="#bde3bd"/>
<rect x="1132.70" y="289.87" width="21.6" height="44.93" fill="#bae1ba"/>
<rect x="1155.35" y="301.04" width="21.6" height="33.76" fill="#c0e4c0"/>
<rect x="1178.00" y="296.39" width="21.6" height="38.41" fill="#cee9ce"/>
<rect x="1200.65" y="300.81" width="21.6" height="33.99" fill="#dff0df"/>
<rect x="1223.30" y="316.87" width="21.6" height="17.93" fill="#e1f1e1"/>
<rect x="1245.95" y="327.12" width="21.6" height="7.68" fill="#e6f3e6"/>
<rect x="1268.60" y="296.85" width="21.6" height="37.95" fill="#f2f8f2"/>
<rect x="1291.25" y="318.50" width="21.6" height="16.30" fill="#e1f1e1"/>
<rect x="1313.90" y="290.56" width="21.6" height="44.24" fill="#f0f7f0"/>
<rect x="1336.55" y="288.93" width="21.6" height="45.87" fill="#f5f9f5"/>
<rect x="1359.20" y="285.21" width="21.6" height="49.59" fill="#fbf8f8"/>
<rect x="1381.85" y="315.01" width="21.6" height="19.79" fill="#f9f4f4"/>
<rect x="1404.50" y="321.30" width="21.6" height="13.50" fill="#f7efef"/>
<rect x="1427.15" y="291.96" width="21.6" height="42.84" fill="#f7eeee"/>
<rect x="1449.80" y="284.98" width="21.6" height="49.82" fill="#e0b0b0"/>
<rect x="1472.45" y="296.85" width="21.6" height="37.95" fill="#e7c4c4"/>
<rect x="1495.10" y="307.56" width="21.6" height="27.24" fill="#f0dcdc"/>
<rect x="1517.75" y="303.84" width="21.6" height="30.96" fill="#fbfafa"/>
<rect x="1540.40" y="321.06" width="21.6" height="13.74" fill="#f8faf8"/>
<rect x="1563.05" y="326.88" width="21.6" height="7.92" fill="#eff7ef"/>
<rect x="1585.70" y="309.19" width="21.6" height="25.61" fill="#def0de"/>
<rect x="1608.35" y="300.81" width="21.6" height="33.99" fill="#c1e4c1"/>
<rect x="1631.00" y="306.86" width="21.6" height="27.94" fill="#bde3bd"/>
<rect x="1653.65" y="314.78" width="21.6" height="20.02" fill="#c1e4c1"/>
<rect x="1676.30" y="311.98" width="21.6" height="22.82" fill="#c4e5c4"/>
<rect x="1698.95" y="323.39" width="21.6" height="11.41" fill="#c6e6c6"/>
<polyline points="781.1,290.6 803.7,288.2 826.4,288.7 849.0,289.7 871.7,289.6 894.3,284.3 917.0,284.8 939.6,289.5 962.3,293.9 984.9,298.0 1007.6,299.0 1030.2,300.1 1052.9,302.2 1075.5,303.5 1098.2,304.8 1120.8,304.5 1143.5,304.1 1166.1,304.5 1188.8,304.5 1211.4,304.1 1234.1,308.2 1256.8,306.7 1279.4,305.7 1302.0,303.4 1324.7,303.2 1347.3,302.3 1370.0,301.6 1392.6,296.9 1415.3,297.7 1437.9,300.4 1460.6,303.1 1483.2,303.9 1505.9,304.7 1528.5,307.2 1551.2,309.5 1573.8,310.9 1596.5,311.9 1619.1,313.1 1641.8,313.4" fill="none" stroke="#8a8a8a" stroke-opacity="0.75" stroke-width="0.9" stroke-dasharray="3.2 1.6"/>
<line x1="769.5" y1="250.0" x2="769.5" y2="335.5" stroke="#8796a0" stroke-width="1"/>
<line x1="769" y1="335.0" x2="1723" y2="335.0" stroke="#8796a0" stroke-width="1"/>
<line x1="767.7" y1="259.6" x2="770.5" y2="259.6" stroke="#8796a0" stroke-width="1"/>
<text transform="translate(774.2,261.2) scale(1.06,1)" font-size="11.29" fill="#7f8785" stroke="#7f8785" stroke-width="0.15" dx="0.09 0.1 0.16">323</text>
<text transform="translate(774.1,316.5) scale(1.06,1)" font-size="11.29" fill="#183c3e" stroke="#183c3e" stroke-width="0.45" dx="0.03 0.43">64</text>
<text transform="translate(796.9,318.4) scale(1.06,1)" font-size="11.29" fill="#183c3e" stroke="#183c3e" stroke-width="0.45" dx="0.07 0.09">56</text>
<text transform="translate(816.0,273.9) scale(1.06,1)" font-size="11.29" fill="#183c3e" stroke="#183c3e" stroke-width="0.45" dx="0.07 0.39 0.31">247</text>
<text transform="translate(838.8,256.2) scale(1.06,1)" font-size="11.29" fill="#183c3e" stroke="#183c3e" stroke-width="0.45" dx="0.09 0.1 0.16">323</text>
<text transform="translate(862.7,263.7) scale(1.06,1)" font-size="11.29" fill="#183c3e" stroke="#183c3e" stroke-width="0.45" dx="0.07 0.14 -1.15">291</text>
<text transform="translate(884.1,271.3) scale(1.06,1)" font-size="11.29" fill="#183c3e" stroke="#183c3e" stroke-width="0.45" dx="0.07 0.14 0.12">258</text>
<text transform="translate(909.2,304.2) scale(1.06,1)" font-size="11.29" fill="#183c3e" stroke="#183c3e" stroke-width="0.45" dx="-1.21 -2.11 -0.84">117</text>
<text transform="translate(932.8,315.6) scale(1.06,1)" font-size="11.29" fill="#183c3e" stroke="#183c3e" stroke-width="0.45" dx="0.03 0.17">68</text>
<text transform="translate(953.1,281.6) scale(1.06,1)" font-size="11.29" fill="#183c3e" stroke="#183c3e" stroke-width="0.45" dx="0.07 -1.15 -0.57">214</text>
<text transform="translate(974.7,277.4) scale(1.06,1)" font-size="11.29" fill="#183c3e" stroke="#183c3e" stroke-width="0.45" dx="0.07 0.16 0.1">232</text>
<text transform="translate(998.6,288.8) scale(1.06,1)" font-size="11.29" fill="#183c3e" stroke="#183c3e" stroke-width="0.45" dx="-1.21 -0.83 0.16">183</text>
<text transform="translate(1021.2,294.6) scale(1.06,1)" font-size="11.29" fill="#183c3e" stroke="#183c3e" stroke-width="0.45" dx="-1.21 -0.82 0.12">158</text>
<text transform="translate(1043.7,300.2) scale(1.06,1)" font-size="11.29" fill="#183c3e" stroke="#183c3e" stroke-width="0.45" dx="-1.21 -0.8 0.37">134</text>
<text transform="translate(1068.7,311.1) scale(1.06,1)" font-size="11.29" fill="#183c3e" stroke="#183c3e" stroke-width="0.45" dx="0.07 0.12">87</text>
<text transform="translate(1091.4,323.3) scale(1.06,1)" font-size="11.29" fill="#183c3e" stroke="#183c3e" stroke-width="0.45" dx="0.09 0.11">35</text>
<text transform="translate(1113.0,296.2) scale(1.06,1)" font-size="11.29" fill="#183c3e" stroke="#183c3e" stroke-width="0.45" dx="-1.21 -0.82 -1.15">151</text>
<text transform="translate(1134.5,286.5) scale(1.06,1)" font-size="11.29" fill="#183c3e" stroke="#183c3e" stroke-width="0.45" dx="-1.21 -0.82 0.15">193</text>
<text transform="translate(1156.9,297.6) scale(1.06,1)" font-size="11.29" fill="#183c3e" stroke="#183c3e" stroke-width="0.45" dx="-1.21 -0.57 0.32">145</text>
<text transform="translate(1179.8,293.0) scale(1.06,1)" font-size="11.29" fill="#183c3e" stroke="#183c3e" stroke-width="0.45" dx="-1.21 -0.87 0.18">165</text>
<text transform="translate(1202.2,297.4) scale(1.06,1)" font-size="11.29" fill="#183c3e" stroke="#183c3e" stroke-width="0.45" dx="-1.21 -0.57 0.27">146</text>
<text transform="translate(1227.3,313.5) scale(1.06,1)" font-size="11.29" fill="#183c3e" stroke="#183c3e" stroke-width="0.45" dx="0.06 0.13">77</text>
<text transform="translate(1249.9,323.7) scale(1.06,1)" font-size="11.29" fill="#183c3e" stroke="#183c3e" stroke-width="0.45" dx="0.09 0.13">33</text>
<text transform="translate(1270.4,293.5) scale(1.06,1)" font-size="11.29" fill="#183c3e" stroke="#183c3e" stroke-width="0.45" dx="-1.21 -0.87 0.2">163</text>
<text transform="translate(1295.2,315.1) scale(1.06,1)" font-size="11.29" fill="#183c3e" stroke="#183c3e" stroke-width="0.45" dx="0.06 0.13">70</text>
<text transform="translate(1315.7,287.2) scale(1.06,1)" font-size="11.29" fill="#183c3e" stroke="#183c3e" stroke-width="0.45" dx="-1.21 -0.82 0.12">190</text>
<text transform="translate(1338.3,285.5) scale(1.06,1)" font-size="11.29" fill="#183c3e" stroke="#183c3e" stroke-width="0.45" dx="-1.21 -0.82 0.12">197</text>
<text transform="translate(1361.0,281.8) scale(1.06,1)" font-size="11.29" fill="#183c3e" stroke="#183c3e" stroke-width="0.45" dx="0.07 -1.15 -0.8">213</text>
<text transform="translate(1385.8,311.6) scale(1.06,1)" font-size="11.29" fill="#183c3e" stroke="#183c3e" stroke-width="0.45" dx="0.07 0.14">85</text>
<text transform="translate(1408.5,317.9) scale(1.06,1)" font-size="11.29" fill="#183c3e" stroke="#183c3e" stroke-width="0.45" dx="0.07 0.12">58</text>
<text transform="translate(1428.7,288.6) scale(1.06,1)" font-size="11.29" fill="#183c3e" stroke="#183c3e" stroke-width="0.45" dx="-1.21 -0.83 0.39">184</text>
<text transform="translate(1451.4,281.6) scale(1.06,1)" font-size="11.29" fill="#183c3e" stroke="#183c3e" stroke-width="0.45" dx="0.07 -1.15 -0.57">214</text>
<text transform="translate(1474.2,293.5) scale(1.06,1)" font-size="11.29" fill="#183c3e" stroke="#183c3e" stroke-width="0.45" dx="-1.21 -0.87 0.2">163</text>
<text transform="translate(1498.1,304.2) scale(1.06,1)" font-size="11.29" fill="#183c3e" stroke="#183c3e" stroke-width="0.45" dx="-1.21 -2.11 -0.84">117</text>
<text transform="translate(1519.5,300.4) scale(1.06,1)" font-size="11.29" fill="#183c3e" stroke="#183c3e" stroke-width="0.45" dx="-1.21 -0.8 0.13">133</text>
<text transform="translate(1544.4,317.7) scale(1.06,1)" font-size="11.29" fill="#183c3e" stroke="#183c3e" stroke-width="0.45" dx="0.07 0.13">59</text>
<text transform="translate(1566.8,323.5) scale(1.06,1)" font-size="11.29" fill="#183c3e" stroke="#183c3e" stroke-width="0.45" dx="0.09 0.37">34</text>
<text transform="translate(1588.7,305.8) scale(1.06,1)" font-size="11.29" fill="#183c3e" stroke="#183c3e" stroke-width="0.45" dx="-1.21 -2.11 -0.84">110</text>
<text transform="translate(1609.9,297.4) scale(1.06,1)" font-size="11.29" fill="#183c3e" stroke="#183c3e" stroke-width="0.45" dx="-1.21 -0.57 0.27">146</text>
<text transform="translate(1632.8,303.5) scale(1.06,1)" font-size="11.29" fill="#183c3e" stroke="#183c3e" stroke-width="0.45" dx="-1.21 -0.83 0.12">120</text>
<text transform="translate(1657.6,311.4) scale(1.06,1)" font-size="11.29" fill="#183c3e" stroke="#183c3e" stroke-width="0.45" dx="0.07 0.09">86</text>
<text transform="translate(1680.3,308.6) scale(1.06,1)" font-size="11.29" fill="#183c3e" stroke="#183c3e" stroke-width="0.45" dx="0.07 0.12">98</text>
<text transform="translate(1702.7,320.0) scale(1.06,1)" font-size="11.29" fill="#183c3e" stroke="#183c3e" stroke-width="0.45" dx="0.33 0.32">49</text>
<line x1="917.0" y1="333.3" x2="917.0" y2="336.3" stroke="#1c4346" stroke-width="1"/>
<text transform="translate(895.7,346.7) scale(1.06,1)" font-size="10.14" fill="#1c4346" stroke="#1c4346" stroke-width="0.3" dx="-1.14 -0.89 -0.26 -0.03 -0.11 -0.26 -0.06 -0.05 -1.17">10.4.2021</text>
<line x1="1075.5" y1="333.3" x2="1075.5" y2="336.3" stroke="#1c4346" stroke-width="1"/>
<text transform="translate(1054.2,346.7) scale(1.06,1)" font-size="10.14" fill="#1c4346" stroke="#1c4346" stroke-width="0.3" dx="-1.14 -0.89 -0.26 -0.03 -0.11 -0.26 -0.06 -0.05 -1.17">17.4.2021</text>
<line x1="1234.1" y1="333.3" x2="1234.1" y2="336.3" stroke="#1c4346" stroke-width="1"/>
<text transform="translate(1211.5,346.7) scale(1.06,1)" font-size="10.14" fill="#1c4346" stroke="#1c4346" stroke-width="0.3" dx="-0.03 0.18 -0.11 -0.03 -0.11 -0.26 -0.06 -0.05 -1.17">24.4.2021</text>
<line x1="1392.6" y1="333.3" x2="1392.6" y2="336.3" stroke="#1c4346" stroke-width="1"/>
<text transform="translate(1374.4,346.7) scale(1.06,1)" font-size="10.14" fill="#1c4346" stroke="#1c4346" stroke-width="0.3" dx="-1.14 -1.1 -0.26 -0.27 -0.26 -0.06 -0.05 -1.17">1.5.2021</text>
<line x1="1551.2" y1="333.3" x2="1551.2" y2="336.3" stroke="#1c4346" stroke-width="1"/>
<text transform="translate(1532.0,346.7) scale(1.06,1)" font-size="10.14" fill="#1c4346" stroke="#1c4346" stroke-width="0.3" dx="-0.03 -0.27 -0.26 -0.27 -0.26 -0.06 -0.05 -1.17">8.5.2021</text>
<line x1="1709.8" y1="333.3" x2="1709.8" y2="336.3" stroke="#1c4346" stroke-width="1"/>
<text transform="translate(1688.7,346.7) scale(1.06,1)" font-size="10.14" fill="#1c4346" stroke="#1c4346" stroke-width="0.3" dx="-1.14 -0.88 -0.27 -0.26 -0.27 -0.26 -0.06 -0.05 -1.17">15.5.2021</text>
</g>
</svg>
</body></html>
